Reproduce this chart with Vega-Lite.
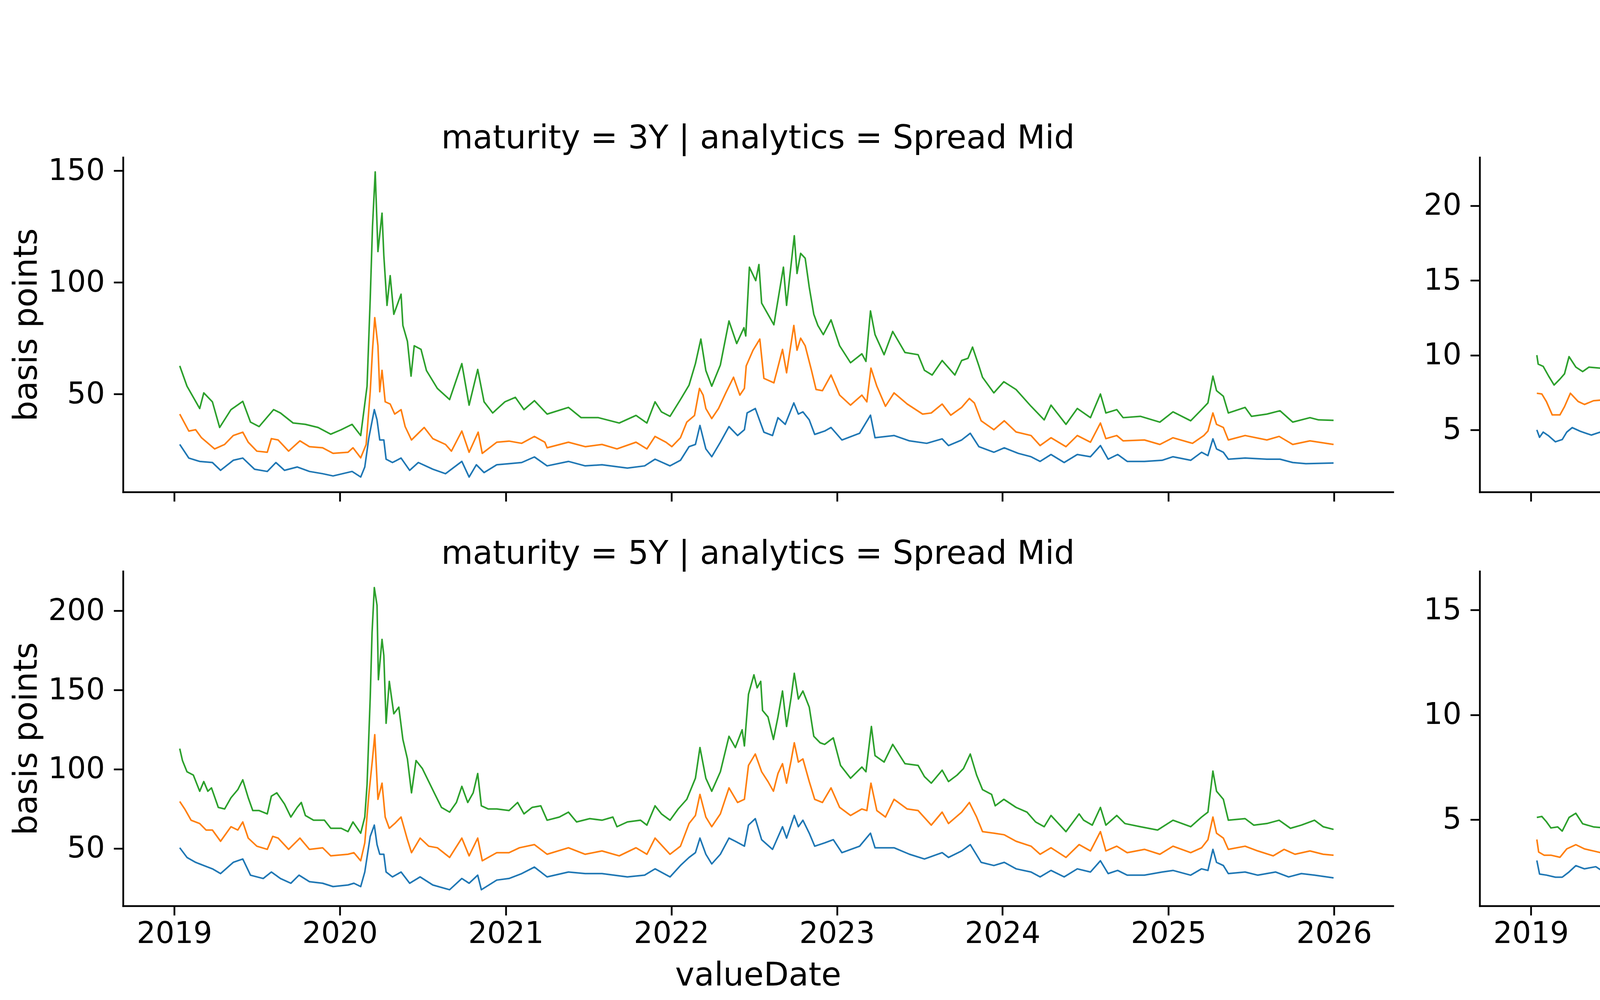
{
  "$schema": "https://vega.github.io/schema/vega-lite/v6.json",
  "background": "white",
  "padding": {"left": 27, "top": 65, "right": 10, "bottom": 10},
  "config": {
    "font": "DejaVu Sans",
    "view": {"stroke": null},
    "axis": {"grid": false, "domainColor": "#000000", "domainWidth": 4.5, "domainCap": "square", "tickColor": "#000000", "tickWidth": 4.5, "tickSize": 24, "labelFontSize": 76, "labelColor": "#000000", "labelLimit": 600, "titleFontSize": 83, "titleFontWeight": "normal", "titleColor": "#000000", "labelFont": "DejaVu Sans", "titleFont": "DejaVu Sans"},
    "axisX": {"labelPadding": 10, "titlePadding": 28, "format": "%Y"},
    "axisY": {"labelPadding": 23, "titlePadding": 12},
    "title": {"fontSize": 83, "fontWeight": "normal", "color": "#000000", "font": "DejaVu Sans", "offset": 2, "anchor": "middle"},
    "legend": {"labelLimit": 600, "titleLimit": 600},
    "line": {"strokeWidth": 4, "strokeJoin": "round"}
  },
  "bounds": "flush",
  "columns": 2,
  "spacing": {"row": 203, "column": 222},
  "datasets": {
    "m3": [
      {"valueDate":"2019-01-13","quantile":"75%","bp":62.6},{"valueDate":"2019-01-29","quantile":"75%","bp":53.5},{"valueDate":"2019-02-26","quantile":"75%","bp":43.5},{"valueDate":"2019-03-07","quantile":"75%","bp":50.5},{"valueDate":"2019-03-26","quantile":"75%","bp":46.5},{"valueDate":"2019-04-11","quantile":"75%","bp":35},{"valueDate":"2019-05-06","quantile":"75%","bp":43},{"valueDate":"2019-06-01","quantile":"75%","bp":46.7},{"valueDate":"2019-06-18","quantile":"75%","bp":37.4},{"valueDate":"2019-07-07","quantile":"75%","bp":35.4},{"valueDate":"2019-08-08","quantile":"75%","bp":43},{"valueDate":"2019-08-23","quantile":"75%","bp":41.5},{"valueDate":"2019-09-20","quantile":"75%","bp":37},{"valueDate":"2019-10-17","quantile":"75%","bp":36.4},{"valueDate":"2019-11-14","quantile":"75%","bp":35},{"valueDate":"2019-12-12","quantile":"75%","bp":32},{"valueDate":"2020-01-04","quantile":"75%","bp":34},{"valueDate":"2020-01-28","quantile":"75%","bp":36.4},{"valueDate":"2020-02-16","quantile":"75%","bp":31.4},{"valueDate":"2020-03-01","quantile":"75%","bp":53.5},{"valueDate":"2020-03-08","quantile":"75%","bp":92.7},{"valueDate":"2020-03-13","quantile":"75%","bp":125},{"valueDate":"2020-03-19","quantile":"75%","bp":149.5},{"valueDate":"2020-03-25","quantile":"75%","bp":113.8},{"valueDate":"2020-04-03","quantile":"75%","bp":131},{"valueDate":"2020-04-07","quantile":"75%","bp":112},{"valueDate":"2020-04-14","quantile":"75%","bp":89.7},{"valueDate":"2020-04-21","quantile":"75%","bp":103},{"valueDate":"2020-04-29","quantile":"75%","bp":85.7},{"valueDate":"2020-05-15","quantile":"75%","bp":94.7},{"valueDate":"2020-05-19","quantile":"75%","bp":80.7},{"valueDate":"2020-05-29","quantile":"75%","bp":73.6},{"valueDate":"2020-06-06","quantile":"75%","bp":58},{"valueDate":"2020-06-13","quantile":"75%","bp":71.6},{"valueDate":"2020-06-28","quantile":"75%","bp":70},{"valueDate":"2020-07-10","quantile":"75%","bp":60.5},{"valueDate":"2020-08-03","quantile":"75%","bp":52.5},{"valueDate":"2020-08-30","quantile":"75%","bp":47.5},{"valueDate":"2020-09-26","quantile":"75%","bp":63.6},{"valueDate":"2020-10-12","quantile":"75%","bp":45},{"valueDate":"2020-10-31","quantile":"75%","bp":61},{"valueDate":"2020-11-14","quantile":"75%","bp":46.5},{"valueDate":"2020-12-03","quantile":"75%","bp":41.5},{"valueDate":"2020-12-30","quantile":"75%","bp":46.5},{"valueDate":"2021-01-22","quantile":"75%","bp":48.5},{"valueDate":"2021-02-10","quantile":"75%","bp":43},{"valueDate":"2021-03-05","quantile":"75%","bp":47},{"valueDate":"2021-04-02","quantile":"75%","bp":41},{"valueDate":"2021-05-19","quantile":"75%","bp":44},{"valueDate":"2021-06-16","quantile":"75%","bp":39.4},{"valueDate":"2021-07-24","quantile":"75%","bp":39.4},{"valueDate":"2021-09-08","quantile":"75%","bp":37},{"valueDate":"2021-10-15","quantile":"75%","bp":40.4},{"valueDate":"2021-11-08","quantile":"75%","bp":37},{"valueDate":"2021-11-26","quantile":"75%","bp":46.5},{"valueDate":"2021-12-10","quantile":"75%","bp":42},{"valueDate":"2021-12-29","quantile":"75%","bp":40},{"valueDate":"2022-01-21","quantile":"75%","bp":47.5},{"valueDate":"2022-02-09","quantile":"75%","bp":54},{"valueDate":"2022-02-23","quantile":"75%","bp":63.6},{"valueDate":"2022-03-07","quantile":"75%","bp":74.6},{"valueDate":"2022-03-18","quantile":"75%","bp":60.5},{"valueDate":"2022-03-31","quantile":"75%","bp":53.5},{"valueDate":"2022-04-19","quantile":"75%","bp":63},{"valueDate":"2022-05-08","quantile":"75%","bp":82.7},{"valueDate":"2022-05-25","quantile":"75%","bp":72.6},{"valueDate":"2022-06-10","quantile":"75%","bp":79.7},{"valueDate":"2022-06-14","quantile":"75%","bp":76},{"valueDate":"2022-06-22","quantile":"75%","bp":106.8},{"valueDate":"2022-07-06","quantile":"75%","bp":100.8},{"valueDate":"2022-07-13","quantile":"75%","bp":108},{"valueDate":"2022-07-19","quantile":"75%","bp":90.7},{"valueDate":"2022-08-15","quantile":"75%","bp":81},{"valueDate":"2022-09-05","quantile":"75%","bp":106.8},{"valueDate":"2022-09-12","quantile":"75%","bp":89.7},{"valueDate":"2022-09-29","quantile":"75%","bp":120.9},{"valueDate":"2022-10-05","quantile":"75%","bp":104},{"valueDate":"2022-10-13","quantile":"75%","bp":113},{"valueDate":"2022-10-23","quantile":"75%","bp":110.8},{"valueDate":"2022-11-01","quantile":"75%","bp":97.8},{"valueDate":"2022-11-11","quantile":"75%","bp":85.7},{"valueDate":"2022-11-20","quantile":"75%","bp":80.7},{"valueDate":"2022-12-02","quantile":"75%","bp":76.6},{"valueDate":"2022-12-19","quantile":"75%","bp":83.2},{"valueDate":"2023-01-07","quantile":"75%","bp":71.6},{"valueDate":"2023-01-31","quantile":"75%","bp":64},{"valueDate":"2023-02-25","quantile":"75%","bp":68},{"valueDate":"2023-03-06","quantile":"75%","bp":64.6},{"valueDate":"2023-03-16","quantile":"75%","bp":87.2},{"valueDate":"2023-03-26","quantile":"75%","bp":76.6},{"valueDate":"2023-04-15","quantile":"75%","bp":67.6},{"valueDate":"2023-05-04","quantile":"75%","bp":78},{"valueDate":"2023-05-31","quantile":"75%","bp":68.6},{"valueDate":"2023-06-29","quantile":"75%","bp":67.6},{"valueDate":"2023-07-13","quantile":"75%","bp":60.6},{"valueDate":"2023-07-30","quantile":"75%","bp":58.5},{"valueDate":"2023-08-21","quantile":"75%","bp":65},{"valueDate":"2023-09-18","quantile":"75%","bp":58.5},{"valueDate":"2023-10-03","quantile":"75%","bp":65},{"valueDate":"2023-10-17","quantile":"75%","bp":66},{"valueDate":"2023-10-27","quantile":"75%","bp":71},{"valueDate":"2023-11-10","quantile":"75%","bp":62.6},{"valueDate":"2023-11-18","quantile":"75%","bp":57.5},{"valueDate":"2023-12-13","quantile":"75%","bp":50.5},{"valueDate":"2024-01-04","quantile":"75%","bp":55.5},{"valueDate":"2024-01-31","quantile":"75%","bp":52},{"valueDate":"2024-03-04","quantile":"75%","bp":44.5},{"valueDate":"2024-04-02","quantile":"75%","bp":38.4},{"valueDate":"2024-04-17","quantile":"75%","bp":45},{"valueDate":"2024-05-20","quantile":"75%","bp":36.4},{"valueDate":"2024-06-14","quantile":"75%","bp":43.5},{"valueDate":"2024-07-13","quantile":"75%","bp":39.4},{"valueDate":"2024-08-04","quantile":"75%","bp":50},{"valueDate":"2024-08-16","quantile":"75%","bp":41.5},{"valueDate":"2024-09-09","quantile":"75%","bp":43},{"valueDate":"2024-09-23","quantile":"75%","bp":39.4},{"valueDate":"2024-10-31","quantile":"75%","bp":40},{"valueDate":"2024-12-13","quantile":"75%","bp":37.4},{"valueDate":"2025-01-11","quantile":"75%","bp":42},{"valueDate":"2025-02-19","quantile":"75%","bp":38},{"valueDate":"2025-03-15","quantile":"75%","bp":43},{"valueDate":"2025-03-29","quantile":"75%","bp":46},{"valueDate":"2025-04-09","quantile":"75%","bp":58},{"valueDate":"2025-04-17","quantile":"75%","bp":51.5},{"valueDate":"2025-05-02","quantile":"75%","bp":49},{"valueDate":"2025-05-13","quantile":"75%","bp":41.5},{"valueDate":"2025-06-19","quantile":"75%","bp":44},{"valueDate":"2025-07-03","quantile":"75%","bp":40},{"valueDate":"2025-08-06","quantile":"75%","bp":41},{"valueDate":"2025-09-04","quantile":"75%","bp":42.5},{"valueDate":"2025-10-02","quantile":"75%","bp":37.4},{"valueDate":"2025-11-09","quantile":"75%","bp":39.4},{"valueDate":"2025-11-28","quantile":"75%","bp":38.4},{"valueDate":"2025-12-31","quantile":"75%","bp":38.2},
      {"valueDate":"2019-01-13","quantile":"50%","bp":41},{"valueDate":"2019-02-02","quantile":"50%","bp":33.4},{"valueDate":"2019-02-17","quantile":"50%","bp":34},{"valueDate":"2019-03-02","quantile":"50%","bp":30.4},{"valueDate":"2019-03-31","quantile":"50%","bp":25.4},{"valueDate":"2019-04-22","quantile":"50%","bp":27.4},{"valueDate":"2019-05-11","quantile":"50%","bp":31.4},{"valueDate":"2019-06-01","quantile":"50%","bp":32.9},{"valueDate":"2019-06-13","quantile":"50%","bp":28.4},{"valueDate":"2019-07-02","quantile":"50%","bp":24.4},{"valueDate":"2019-07-25","quantile":"50%","bp":23.9},{"valueDate":"2019-08-03","quantile":"50%","bp":30},{"valueDate":"2019-08-18","quantile":"50%","bp":29.4},{"valueDate":"2019-09-10","quantile":"50%","bp":24.4},{"valueDate":"2019-10-05","quantile":"50%","bp":29},{"valueDate":"2019-10-26","quantile":"50%","bp":26.4},{"valueDate":"2019-11-24","quantile":"50%","bp":25.9},{"valueDate":"2019-12-17","quantile":"50%","bp":23.4},{"valueDate":"2020-01-19","quantile":"50%","bp":23.9},{"valueDate":"2020-01-30","quantile":"50%","bp":25.9},{"valueDate":"2020-02-16","quantile":"50%","bp":21.4},{"valueDate":"2020-02-28","quantile":"50%","bp":27.4},{"valueDate":"2020-03-08","quantile":"50%","bp":51},{"valueDate":"2020-03-13","quantile":"50%","bp":69.6},{"valueDate":"2020-03-18","quantile":"50%","bp":84.2},{"valueDate":"2020-03-25","quantile":"50%","bp":71.6},{"valueDate":"2020-03-29","quantile":"50%","bp":51},{"valueDate":"2020-04-03","quantile":"50%","bp":60.6},{"valueDate":"2020-04-10","quantile":"50%","bp":46.5},{"valueDate":"2020-04-21","quantile":"50%","bp":45.5},{"valueDate":"2020-05-01","quantile":"50%","bp":41},{"valueDate":"2020-05-15","quantile":"50%","bp":43},{"valueDate":"2020-05-24","quantile":"50%","bp":35.4},{"valueDate":"2020-06-07","quantile":"50%","bp":29.4},{"valueDate":"2020-07-05","quantile":"50%","bp":35},{"valueDate":"2020-07-24","quantile":"50%","bp":30},{"valueDate":"2020-08-21","quantile":"50%","bp":27.4},{"valueDate":"2020-09-03","quantile":"50%","bp":24.4},{"valueDate":"2020-09-26","quantile":"50%","bp":33.4},{"valueDate":"2020-10-12","quantile":"50%","bp":23.9},{"valueDate":"2020-11-01","quantile":"50%","bp":32.9},{"valueDate":"2020-11-10","quantile":"50%","bp":23.4},{"valueDate":"2020-12-12","quantile":"50%","bp":28.4},{"valueDate":"2021-01-08","quantile":"50%","bp":28.9},{"valueDate":"2021-02-05","quantile":"50%","bp":27.9},{"valueDate":"2021-03-05","quantile":"50%","bp":31},{"valueDate":"2021-03-28","quantile":"50%","bp":28.4},{"valueDate":"2021-04-02","quantile":"50%","bp":25.9},{"valueDate":"2021-05-19","quantile":"50%","bp":28.4},{"valueDate":"2021-06-25","quantile":"50%","bp":26.4},{"valueDate":"2021-08-01","quantile":"50%","bp":27.4},{"valueDate":"2021-09-03","quantile":"50%","bp":25.4},{"valueDate":"2021-10-15","quantile":"50%","bp":28.4},{"valueDate":"2021-11-08","quantile":"50%","bp":25.4},{"valueDate":"2021-11-26","quantile":"50%","bp":31},{"valueDate":"2021-12-20","quantile":"50%","bp":28.4},{"valueDate":"2022-01-02","quantile":"50%","bp":26.4},{"valueDate":"2022-01-21","quantile":"50%","bp":30.4},{"valueDate":"2022-02-04","quantile":"50%","bp":37.4},{"valueDate":"2022-02-21","quantile":"50%","bp":40.4},{"valueDate":"2022-03-04","quantile":"50%","bp":52.5},{"valueDate":"2022-03-12","quantile":"50%","bp":49.5},{"valueDate":"2022-03-18","quantile":"50%","bp":43.5},{"valueDate":"2022-03-31","quantile":"50%","bp":39},{"valueDate":"2022-04-15","quantile":"50%","bp":43.5},{"valueDate":"2022-05-01","quantile":"50%","bp":50.5},{"valueDate":"2022-05-18","quantile":"50%","bp":57.5},{"valueDate":"2022-06-01","quantile":"50%","bp":49.5},{"valueDate":"2022-06-11","quantile":"50%","bp":52.5},{"valueDate":"2022-06-15","quantile":"50%","bp":62.6},{"valueDate":"2022-06-30","quantile":"50%","bp":69.6},{"valueDate":"2022-07-15","quantile":"50%","bp":74.6},{"valueDate":"2022-07-24","quantile":"50%","bp":57},{"valueDate":"2022-08-15","quantile":"50%","bp":55},{"valueDate":"2022-09-03","quantile":"50%","bp":70},{"valueDate":"2022-09-12","quantile":"50%","bp":59.5},{"valueDate":"2022-09-28","quantile":"50%","bp":80.7},{"valueDate":"2022-10-05","quantile":"50%","bp":69.6},{"valueDate":"2022-10-13","quantile":"50%","bp":75},{"valueDate":"2022-10-23","quantile":"50%","bp":71.6},{"valueDate":"2022-11-06","quantile":"50%","bp":60.5},{"valueDate":"2022-11-16","quantile":"50%","bp":52},{"valueDate":"2022-11-30","quantile":"50%","bp":51.5},{"valueDate":"2022-12-19","quantile":"50%","bp":58.5},{"valueDate":"2023-01-07","quantile":"50%","bp":49.5},{"valueDate":"2023-01-31","quantile":"50%","bp":45},{"valueDate":"2023-02-25","quantile":"50%","bp":49.5},{"valueDate":"2023-03-08","quantile":"50%","bp":46.5},{"valueDate":"2023-03-17","quantile":"50%","bp":61.6},{"valueDate":"2023-03-30","quantile":"50%","bp":53.5},{"valueDate":"2023-04-18","quantile":"50%","bp":44.5},{"valueDate":"2023-05-07","quantile":"50%","bp":50.5},{"valueDate":"2023-06-05","quantile":"50%","bp":45.5},{"valueDate":"2023-07-09","quantile":"50%","bp":41},{"valueDate":"2023-07-28","quantile":"50%","bp":41.5},{"valueDate":"2023-08-21","quantile":"50%","bp":45.5},{"valueDate":"2023-09-09","quantile":"50%","bp":40.5},{"valueDate":"2023-10-03","quantile":"50%","bp":44},{"valueDate":"2023-10-20","quantile":"50%","bp":48},{"valueDate":"2023-10-31","quantile":"50%","bp":46},{"valueDate":"2023-11-15","quantile":"50%","bp":38},{"valueDate":"2023-12-13","quantile":"50%","bp":34},{"valueDate":"2024-01-05","quantile":"50%","bp":38},{"valueDate":"2024-01-31","quantile":"50%","bp":33},{"valueDate":"2024-03-04","quantile":"50%","bp":31.4},{"valueDate":"2024-03-24","quantile":"50%","bp":26.9},{"valueDate":"2024-04-17","quantile":"50%","bp":30.4},{"valueDate":"2024-05-20","quantile":"50%","bp":26.4},{"valueDate":"2024-06-14","quantile":"50%","bp":31.4},{"valueDate":"2024-07-13","quantile":"50%","bp":28.4},{"valueDate":"2024-08-04","quantile":"50%","bp":37},{"valueDate":"2024-08-16","quantile":"50%","bp":30},{"valueDate":"2024-09-09","quantile":"50%","bp":31.4},{"valueDate":"2024-09-23","quantile":"50%","bp":29},{"valueDate":"2024-11-09","quantile":"50%","bp":29.4},{"valueDate":"2024-12-13","quantile":"50%","bp":27.4},{"valueDate":"2025-01-11","quantile":"50%","bp":30.4},{"valueDate":"2025-02-23","quantile":"50%","bp":27.9},{"valueDate":"2025-03-20","quantile":"50%","bp":31.4},{"valueDate":"2025-03-29","quantile":"50%","bp":33.4},{"valueDate":"2025-04-09","quantile":"50%","bp":41.5},{"valueDate":"2025-04-17","quantile":"50%","bp":36.4},{"valueDate":"2025-05-02","quantile":"50%","bp":35},{"valueDate":"2025-05-13","quantile":"50%","bp":29.4},{"valueDate":"2025-06-19","quantile":"50%","bp":31.4},{"valueDate":"2025-08-06","quantile":"50%","bp":29.4},{"valueDate":"2025-09-02","quantile":"50%","bp":31},{"valueDate":"2025-10-02","quantile":"50%","bp":27.4},{"valueDate":"2025-11-09","quantile":"50%","bp":29},{"valueDate":"2025-12-31","quantile":"50%","bp":27.4},
      {"valueDate":"2019-01-13","quantile":"25%","bp":27.4},{"valueDate":"2019-02-02","quantile":"25%","bp":21.3},{"valueDate":"2019-02-26","quantile":"25%","bp":19.8},{"valueDate":"2019-03-26","quantile":"25%","bp":19.3},{"valueDate":"2019-04-13","quantile":"25%","bp":15.8},{"valueDate":"2019-05-11","quantile":"25%","bp":20.3},{"valueDate":"2019-06-01","quantile":"25%","bp":21.3},{"valueDate":"2019-06-27","quantile":"25%","bp":16.3},{"valueDate":"2019-07-25","quantile":"25%","bp":15.3},{"valueDate":"2019-08-13","quantile":"25%","bp":19.3},{"valueDate":"2019-09-01","quantile":"25%","bp":15.8},{"valueDate":"2019-09-29","quantile":"25%","bp":17.3},{"valueDate":"2019-10-26","quantile":"25%","bp":15.3},{"valueDate":"2019-11-24","quantile":"25%","bp":14.3},{"valueDate":"2019-12-17","quantile":"25%","bp":13.3},{"valueDate":"2020-01-28","quantile":"25%","bp":15.3},{"valueDate":"2020-02-16","quantile":"25%","bp":12.8},{"valueDate":"2020-02-25","quantile":"25%","bp":17.3},{"valueDate":"2020-03-05","quantile":"25%","bp":30.4},{"valueDate":"2020-03-17","quantile":"25%","bp":43},{"valueDate":"2020-03-23","quantile":"25%","bp":38.4},{"valueDate":"2020-03-29","quantile":"25%","bp":29.4},{"valueDate":"2020-04-07","quantile":"25%","bp":29.4},{"valueDate":"2020-04-12","quantile":"25%","bp":20.8},{"valueDate":"2020-04-26","quantile":"25%","bp":19.3},{"valueDate":"2020-05-15","quantile":"25%","bp":21.3},{"valueDate":"2020-06-03","quantile":"25%","bp":15.8},{"valueDate":"2020-06-22","quantile":"25%","bp":19.3},{"valueDate":"2020-07-24","quantile":"25%","bp":16.3},{"valueDate":"2020-08-21","quantile":"25%","bp":14.3},{"valueDate":"2020-09-26","quantile":"25%","bp":19.8},{"valueDate":"2020-10-12","quantile":"25%","bp":12.8},{"valueDate":"2020-10-28","quantile":"25%","bp":18.3},{"valueDate":"2020-11-14","quantile":"25%","bp":14.8},{"valueDate":"2020-12-12","quantile":"25%","bp":18.3},{"valueDate":"2021-01-08","quantile":"25%","bp":18.8},{"valueDate":"2021-02-05","quantile":"25%","bp":19.3},{"valueDate":"2021-03-05","quantile":"25%","bp":21.8},{"valueDate":"2021-04-02","quantile":"25%","bp":17.8},{"valueDate":"2021-05-19","quantile":"25%","bp":19.8},{"valueDate":"2021-06-25","quantile":"25%","bp":17.8},{"valueDate":"2021-08-01","quantile":"25%","bp":18.3},{"valueDate":"2021-09-26","quantile":"25%","bp":16.8},{"valueDate":"2021-11-03","quantile":"25%","bp":17.8},{"valueDate":"2021-11-26","quantile":"25%","bp":20.8},{"valueDate":"2021-12-29","quantile":"25%","bp":17.8},{"valueDate":"2022-01-21","quantile":"25%","bp":20.3},{"valueDate":"2022-02-09","quantile":"25%","bp":26.4},{"valueDate":"2022-02-23","quantile":"25%","bp":27.4},{"valueDate":"2022-03-05","quantile":"25%","bp":35.9},{"valueDate":"2022-03-18","quantile":"25%","bp":25.4},{"valueDate":"2022-03-31","quantile":"25%","bp":21.9},{"valueDate":"2022-04-19","quantile":"25%","bp":28.4},{"valueDate":"2022-05-08","quantile":"25%","bp":35.4},{"valueDate":"2022-05-27","quantile":"25%","bp":31.4},{"valueDate":"2022-06-11","quantile":"25%","bp":34},{"valueDate":"2022-06-17","quantile":"25%","bp":41.5},{"valueDate":"2022-07-05","quantile":"25%","bp":43.5},{"valueDate":"2022-07-24","quantile":"25%","bp":32.9},{"valueDate":"2022-08-12","quantile":"25%","bp":31.4},{"valueDate":"2022-08-24","quantile":"25%","bp":39.4},{"valueDate":"2022-09-09","quantile":"25%","bp":36.4},{"valueDate":"2022-09-28","quantile":"25%","bp":46},{"valueDate":"2022-10-08","quantile":"25%","bp":41},{"valueDate":"2022-10-18","quantile":"25%","bp":42},{"valueDate":"2022-11-01","quantile":"25%","bp":38.4},{"valueDate":"2022-11-13","quantile":"25%","bp":31.9},{"valueDate":"2022-12-05","quantile":"25%","bp":33.4},{"valueDate":"2022-12-19","quantile":"25%","bp":35},{"valueDate":"2023-01-12","quantile":"25%","bp":29.4},{"valueDate":"2023-02-20","quantile":"25%","bp":32.4},{"valueDate":"2023-03-16","quantile":"25%","bp":40.5},{"valueDate":"2023-03-26","quantile":"25%","bp":30.4},{"valueDate":"2023-05-07","quantile":"25%","bp":31.4},{"valueDate":"2023-06-10","quantile":"25%","bp":29},{"valueDate":"2023-07-18","quantile":"25%","bp":27.9},{"valueDate":"2023-08-21","quantile":"25%","bp":29.9},{"valueDate":"2023-09-04","quantile":"25%","bp":26.9},{"valueDate":"2023-10-03","quantile":"25%","bp":29.4},{"valueDate":"2023-10-22","quantile":"25%","bp":32.4},{"valueDate":"2023-11-10","quantile":"25%","bp":26.4},{"valueDate":"2023-12-13","quantile":"25%","bp":23.9},{"valueDate":"2024-01-05","quantile":"25%","bp":25.9},{"valueDate":"2024-02-05","quantile":"25%","bp":23.4},{"valueDate":"2024-03-04","quantile":"25%","bp":21.9},{"valueDate":"2024-03-24","quantile":"25%","bp":19.8},{"valueDate":"2024-04-17","quantile":"25%","bp":22.9},{"valueDate":"2024-05-16","quantile":"25%","bp":19.3},{"valueDate":"2024-06-14","quantile":"25%","bp":22.9},{"valueDate":"2024-07-13","quantile":"25%","bp":21.9},{"valueDate":"2024-08-04","quantile":"25%","bp":26.9},{"valueDate":"2024-08-21","quantile":"25%","bp":20.8},{"valueDate":"2024-09-11","quantile":"25%","bp":22.9},{"valueDate":"2024-10-02","quantile":"25%","bp":19.8},{"valueDate":"2024-11-09","quantile":"25%","bp":19.8},{"valueDate":"2024-12-18","quantile":"25%","bp":20.3},{"valueDate":"2025-01-11","quantile":"25%","bp":21.9},{"valueDate":"2025-02-19","quantile":"25%","bp":20.3},{"valueDate":"2025-03-15","quantile":"25%","bp":23.9},{"valueDate":"2025-03-29","quantile":"25%","bp":22.4},{"valueDate":"2025-04-09","quantile":"25%","bp":29.9},{"valueDate":"2025-04-17","quantile":"25%","bp":25.4},{"valueDate":"2025-05-02","quantile":"25%","bp":23.9},{"valueDate":"2025-05-13","quantile":"25%","bp":20.8},{"valueDate":"2025-06-19","quantile":"25%","bp":21.3},{"valueDate":"2025-08-06","quantile":"25%","bp":20.8},{"valueDate":"2025-09-04","quantile":"25%","bp":20.8},{"valueDate":"2025-10-02","quantile":"25%","bp":19.3},{"valueDate":"2025-10-31","quantile":"25%","bp":18.8},{"valueDate":"2025-12-31","quantile":"25%","bp":19.1}
    ],
    "b3": [
      {"valueDate":"2019-01-14","quantile":"75%","bp":10.0},{"valueDate":"2019-01-17","quantile":"75%","bp":9.4},{"valueDate":"2019-01-28","quantile":"75%","bp":9.25},{"valueDate":"2019-02-09","quantile":"75%","bp":8.6},{"valueDate":"2019-02-21","quantile":"75%","bp":8.0},{"valueDate":"2019-03-06","quantile":"75%","bp":8.4},{"valueDate":"2019-03-16","quantile":"75%","bp":8.75},{"valueDate":"2019-03-26","quantile":"75%","bp":9.9},{"valueDate":"2019-04-10","quantile":"75%","bp":9.2},{"valueDate":"2019-04-25","quantile":"75%","bp":8.9},{"valueDate":"2019-05-09","quantile":"75%","bp":9.2},{"valueDate":"2019-06-13","quantile":"75%","bp":9.1},{"valueDate":"2019-06-23","quantile":"75%","bp":8.6},{"valueDate":"2019-07-08","quantile":"75%","bp":8.75},{"valueDate":"2019-07-27","quantile":"75%","bp":8.5},{"valueDate":"2019-08-11","quantile":"75%","bp":8.75},{"valueDate":"2019-08-16","quantile":"75%","bp":8.3},{"valueDate":"2019-08-24","quantile":"75%","bp":6.5},{"valueDate":"2019-09-05","quantile":"75%","bp":6.55},{"valueDate":"2019-09-18","quantile":"75%","bp":6.4},{"valueDate":"2019-09-25","quantile":"75%","bp":7.1},{"valueDate":"2019-10-04","quantile":"75%","bp":7.6},{"valueDate":"2019-10-19","quantile":"75%","bp":7.1},{"valueDate":"2019-11-13","quantile":"75%","bp":7.3},{"valueDate":"2019-12-03","quantile":"75%","bp":7.0},{"valueDate":"2019-12-23","quantile":"75%","bp":7.1},{"valueDate":"2020-01-07","quantile":"75%","bp":6.5},{"valueDate":"2020-01-27","quantile":"75%","bp":6.9},{"valueDate":"2020-02-16","quantile":"75%","bp":7.0},{"valueDate":"2020-03-02","quantile":"75%","bp":7.5},{"valueDate":"2020-03-14","quantile":"75%","bp":12.35},{"valueDate":"2020-03-24","quantile":"75%","bp":17.4},{"valueDate":"2020-04-03","quantile":"75%","bp":20.4},{"valueDate":"2020-04-11","quantile":"75%","bp":22.2},{"valueDate":"2020-04-18","quantile":"75%","bp":20.7},{"valueDate":"2020-04-26","quantile":"75%","bp":16.8},{"valueDate":"2020-05-03","quantile":"75%","bp":14.15},{"valueDate":"2020-05-16","quantile":"75%","bp":13.0},{"valueDate":"2020-05-31","quantile":"75%","bp":12.0},{"valueDate":"2020-06-08","quantile":"75%","bp":10.5},{"valueDate":"2020-06-20","quantile":"75%","bp":10.4},{"valueDate":"2020-06-28","quantile":"75%","bp":9.65},{"valueDate":"2020-07-07","quantile":"75%","bp":11},{"valueDate":"2020-07-19","quantile":"75%","bp":10.4},{"valueDate":"2020-07-29","quantile":"75%","bp":11.5},{"valueDate":"2020-08-11","quantile":"75%","bp":9.8},{"valueDate":"2020-08-23","quantile":"75%","bp":10.8},{"valueDate":"2020-09-06","quantile":"75%","bp":10.3},{"valueDate":"2020-09-16","quantile":"75%","bp":10},{"valueDate":"2020-10-01","quantile":"75%","bp":11.05},{"valueDate":"2020-10-16","quantile":"75%","bp":9.9},{"valueDate":"2020-10-28","quantile":"75%","bp":8.35},{"valueDate":"2020-11-08","quantile":"75%","bp":8.7},{"valueDate":"2020-11-15","quantile":"75%","bp":10.4},{"valueDate":"2020-11-25","quantile":"75%","bp":11.4},{"valueDate":"2020-12-10","quantile":"75%","bp":10.4},{"valueDate":"2020-12-30","quantile":"75%","bp":9.9},{"valueDate":"2021-01-13","quantile":"75%","bp":9.0},{"valueDate":"2021-01-28","quantile":"75%","bp":10.4},{"valueDate":"2021-02-12","quantile":"75%","bp":9.9},{"valueDate":"2021-02-27","quantile":"75%","bp":8.35},{"valueDate":"2021-03-13","quantile":"75%","bp":8.4},{"valueDate":"2021-03-28","quantile":"75%","bp":10},{"valueDate":"2021-04-12","quantile":"75%","bp":10},{"valueDate":"2021-04-22","quantile":"75%","bp":9.25},{"valueDate":"2021-05-17","quantile":"75%","bp":8.75},{"valueDate":"2021-06-05","quantile":"75%","bp":8.9},{"valueDate":"2021-06-22","quantile":"75%","bp":8.4},{"valueDate":"2021-06-30","quantile":"75%","bp":7.1},{"valueDate":"2021-07-20","quantile":"75%","bp":6.95},{"valueDate":"2021-07-26","quantile":"75%","bp":8.4},{"valueDate":"2021-08-09","quantile":"75%","bp":6.95},{"valueDate":"2021-08-29","quantile":"75%","bp":7.5},{"valueDate":"2021-09-08","quantile":"75%","bp":8.6},{"valueDate":"2021-09-22","quantile":"75%","bp":8.9},{"valueDate":"2021-10-12","quantile":"75%","bp":7.6},{"valueDate":"2021-11-06","quantile":"75%","bp":7.2},{"valueDate":"2021-11-21","quantile":"75%","bp":6.8},{"valueDate":"2021-12-05","quantile":"75%","bp":6.2},{"valueDate":"2021-12-25","quantile":"75%","bp":6.95},{"valueDate":"2022-01-04","quantile":"75%","bp":8.0},{"valueDate":"2022-01-19","quantile":"75%","bp":6.5},{"valueDate":"2022-02-08","quantile":"75%","bp":5.9},{"valueDate":"2022-02-22","quantile":"75%","bp":5.9},{"valueDate":"2022-03-09","quantile":"75%","bp":7.3},{"valueDate":"2022-03-24","quantile":"75%","bp":8.1},{"valueDate":"2022-04-08","quantile":"75%","bp":8.35},{"valueDate":"2022-04-23","quantile":"75%","bp":8.4},{"valueDate":"2022-05-09","quantile":"75%","bp":7.6},{"valueDate":"2022-06-03","quantile":"75%","bp":8.1},{"valueDate":"2022-06-24","quantile":"75%","bp":8.35},{"valueDate":"2022-07-04","quantile":"75%","bp":10.3},{"valueDate":"2022-07-22","quantile":"75%","bp":9.9},{"valueDate":"2022-08-04","quantile":"75%","bp":13.8},{"valueDate":"2022-08-16","quantile":"75%","bp":13.9},{"valueDate":"2022-08-24","quantile":"75%","bp":13.2},{"valueDate":"2022-08-29","quantile":"75%","bp":10.9},{"valueDate":"2022-09-08","quantile":"75%","bp":13.5},{"valueDate":"2022-09-18","quantile":"75%","bp":12.9},{"valueDate":"2022-10-03","quantile":"75%","bp":13.7},{"valueDate":"2022-10-13","quantile":"75%","bp":13.0},{"valueDate":"2022-10-28","quantile":"75%","bp":14.15},{"valueDate":"2022-11-07","quantile":"75%","bp":13.5},{"valueDate":"2022-11-22","quantile":"75%","bp":13.0},{"valueDate":"2022-12-02","quantile":"75%","bp":11.2},{"valueDate":"2022-12-12","quantile":"75%","bp":10.2},{"valueDate":"2022-12-22","quantile":"75%","bp":9.9},{"valueDate":"2023-01-03","quantile":"75%","bp":8.9},{"valueDate":"2023-01-23","quantile":"75%","bp":8.35},{"valueDate":"2023-02-22","quantile":"75%","bp":8.3},{"valueDate":"2023-03-13","quantile":"75%","bp":7.8},{"valueDate":"2023-03-31","quantile":"75%","bp":9.75},{"valueDate":"2023-04-09","quantile":"75%","bp":8.85},{"valueDate":"2023-04-24","quantile":"75%","bp":8.1},{"valueDate":"2023-05-14","quantile":"75%","bp":7.6},{"valueDate":"2023-06-03","quantile":"75%","bp":7.45},{"valueDate":"2023-06-23","quantile":"75%","bp":7.7},{"valueDate":"2023-07-14","quantile":"75%","bp":7.1},{"valueDate":"2023-08-23","quantile":"75%","bp":7.0},{"valueDate":"2023-09-23","quantile":"75%","bp":7.8},{"valueDate":"2023-10-13","quantile":"75%","bp":6.8},{"valueDate":"2023-10-23","quantile":"75%","bp":8.1},{"valueDate":"2023-11-02","quantile":"75%","bp":8.3},{"valueDate":"2023-11-27","quantile":"75%","bp":7.2},{"valueDate":"2023-12-28","quantile":"75%","bp":7.9},{"valueDate":"2024-01-23","quantile":"75%","bp":7.85},{"valueDate":"2024-02-13","quantile":"75%","bp":7.2},{"valueDate":"2024-03-14","quantile":"75%","bp":6.8},{"valueDate":"2024-04-04","quantile":"75%","bp":7.2},{"valueDate":"2024-04-24","quantile":"75%","bp":6.8},{"valueDate":"2024-05-14","quantile":"75%","bp":6.95},{"valueDate":"2024-06-14","quantile":"75%","bp":6.4},{"valueDate":"2024-07-14","quantile":"75%","bp":6.7},{"valueDate":"2024-08-04","quantile":"75%","bp":6.7},{"valueDate":"2024-08-24","quantile":"75%","bp":6.8},{"valueDate":"2024-09-11","quantile":"75%","bp":6.05},{"valueDate":"2024-09-28","quantile":"75%","bp":6.95},{"valueDate":"2024-10-23","quantile":"75%","bp":6.55},{"valueDate":"2024-11-17","quantile":"75%","bp":6.5},{"valueDate":"2024-12-12","quantile":"75%","bp":6.3},{"valueDate":"2025-01-03","quantile":"75%","bp":6.2},{"valueDate":"2025-02-03","quantile":"75%","bp":6.05},{"valueDate":"2025-02-23","quantile":"75%","bp":5.9},{"valueDate":"2025-03-13","quantile":"75%","bp":5.6},{"valueDate":"2025-03-25","quantile":"75%","bp":6.15},{"valueDate":"2025-04-04","quantile":"75%","bp":5.9},{"valueDate":"2025-04-16","quantile":"75%","bp":6.9},{"valueDate":"2025-05-04","quantile":"75%","bp":6.4},{"valueDate":"2025-05-19","quantile":"75%","bp":6.2},{"valueDate":"2025-06-24","quantile":"75%","bp":6.05},{"valueDate":"2025-07-04","quantile":"75%","bp":5.7},{"valueDate":"2025-07-30","quantile":"75%","bp":6.15},{"valueDate":"2025-08-29","quantile":"75%","bp":6.0},{"valueDate":"2025-09-28","quantile":"75%","bp":6.05},{"valueDate":"2025-10-13","quantile":"75%","bp":5.6},{"valueDate":"2025-11-02","quantile":"75%","bp":5.3},{"valueDate":"2025-11-22","quantile":"75%","bp":5.5},{"valueDate":"2025-12-07","quantile":"75%","bp":5.8},{"valueDate":"2025-12-17","quantile":"75%","bp":5.6},{"valueDate":"2025-12-31","quantile":"75%","bp":5.8},
      {"valueDate":"2019-01-14","quantile":"50%","bp":7.45},{"valueDate":"2019-01-25","quantile":"50%","bp":7.4},{"valueDate":"2019-02-04","quantile":"50%","bp":6.9},{"valueDate":"2019-02-17","quantile":"50%","bp":6.0},{"valueDate":"2019-03-06","quantile":"50%","bp":6.0},{"valueDate":"2019-03-16","quantile":"50%","bp":6.55},{"valueDate":"2019-03-29","quantile":"50%","bp":7.45},{"valueDate":"2019-04-15","quantile":"50%","bp":6.9},{"valueDate":"2019-04-29","quantile":"50%","bp":6.7},{"valueDate":"2019-05-19","quantile":"50%","bp":6.95},{"valueDate":"2019-06-08","quantile":"50%","bp":7.0},{"valueDate":"2019-06-23","quantile":"50%","bp":6.6},{"valueDate":"2019-07-08","quantile":"50%","bp":6.2},{"valueDate":"2019-07-27","quantile":"50%","bp":6.15},{"valueDate":"2019-08-11","quantile":"50%","bp":6.55},{"valueDate":"2019-08-16","quantile":"50%","bp":5.7},{"valueDate":"2019-08-28","quantile":"50%","bp":4.2},{"valueDate":"2019-09-10","quantile":"50%","bp":4.35},{"valueDate":"2019-09-20","quantile":"50%","bp":4.5},{"valueDate":"2019-09-27","quantile":"50%","bp":5.3},{"valueDate":"2019-10-06","quantile":"50%","bp":5.55},{"valueDate":"2019-10-16","quantile":"50%","bp":5.1},{"valueDate":"2019-11-13","quantile":"50%","bp":4.9},{"valueDate":"2019-12-08","quantile":"50%","bp":5.0},{"valueDate":"2019-12-23","quantile":"50%","bp":5.4},{"valueDate":"2020-01-04","quantile":"50%","bp":4.4},{"valueDate":"2020-01-17","quantile":"50%","bp":4.9},{"valueDate":"2020-02-06","quantile":"50%","bp":4.85},{"valueDate":"2020-02-19","quantile":"50%","bp":5.65},{"valueDate":"2020-03-04","quantile":"50%","bp":5.65},{"valueDate":"2020-03-17","quantile":"50%","bp":7.45},{"valueDate":"2020-03-25","quantile":"50%","bp":8.6},{"valueDate":"2020-04-03","quantile":"50%","bp":11.7},{"valueDate":"2020-04-09","quantile":"50%","bp":15.3},{"valueDate":"2020-04-14","quantile":"50%","bp":15.2},{"valueDate":"2020-04-19","quantile":"50%","bp":11.7},{"valueDate":"2020-04-29","quantile":"50%","bp":8.3},{"valueDate":"2020-05-09","quantile":"50%","bp":7.4},{"valueDate":"2020-05-26","quantile":"50%","bp":6.95},{"valueDate":"2020-06-10","quantile":"50%","bp":6.6},{"valueDate":"2020-06-22","quantile":"50%","bp":6.3},{"valueDate":"2020-06-30","quantile":"50%","bp":5.8},{"valueDate":"2020-07-09","quantile":"50%","bp":6.8},{"valueDate":"2020-07-19","quantile":"50%","bp":6.3},{"valueDate":"2020-08-03","quantile":"50%","bp":6.05},{"valueDate":"2020-08-18","quantile":"50%","bp":6.05},{"valueDate":"2020-09-02","quantile":"50%","bp":5.9},{"valueDate":"2020-09-14","quantile":"50%","bp":5.55},{"valueDate":"2020-10-01","quantile":"50%","bp":6.6},{"valueDate":"2020-10-14","quantile":"50%","bp":6.5},{"valueDate":"2020-10-21","quantile":"50%","bp":5.5},{"valueDate":"2020-10-31","quantile":"50%","bp":4.75},{"valueDate":"2020-11-10","quantile":"50%","bp":6.3},{"valueDate":"2020-11-17","quantile":"50%","bp":8.3},{"valueDate":"2020-11-27","quantile":"50%","bp":8.3},{"valueDate":"2020-12-07","quantile":"50%","bp":7.5},{"valueDate":"2020-12-20","quantile":"50%","bp":7.1},{"valueDate":"2021-01-08","quantile":"50%","bp":6.6},{"valueDate":"2021-01-28","quantile":"50%","bp":7.6},{"valueDate":"2021-02-12","quantile":"50%","bp":6.9},{"valueDate":"2021-03-04","quantile":"50%","bp":6.15},{"valueDate":"2021-03-23","quantile":"50%","bp":7.1},{"valueDate":"2021-04-07","quantile":"50%","bp":7.4},{"valueDate":"2021-04-27","quantile":"50%","bp":6.55},{"valueDate":"2021-05-12","quantile":"50%","bp":6.15},{"valueDate":"2021-06-01","quantile":"50%","bp":6.4},{"valueDate":"2021-06-20","quantile":"50%","bp":6.0},{"valueDate":"2021-07-05","quantile":"50%","bp":5.3},{"valueDate":"2021-07-25","quantile":"50%","bp":5.8},{"valueDate":"2021-08-14","quantile":"50%","bp":5.5},{"valueDate":"2021-08-29","quantile":"50%","bp":5.55},{"valueDate":"2021-09-22","quantile":"50%","bp":6.15},{"valueDate":"2021-10-12","quantile":"50%","bp":5.65},{"valueDate":"2021-11-06","quantile":"50%","bp":5.4},{"valueDate":"2021-11-26","quantile":"50%","bp":5.1},{"valueDate":"2021-12-15","quantile":"50%","bp":5.15},{"valueDate":"2022-01-04","quantile":"50%","bp":5.4},{"valueDate":"2022-01-14","quantile":"50%","bp":5.0},{"valueDate":"2022-02-08","quantile":"50%","bp":4.7},{"valueDate":"2022-02-22","quantile":"50%","bp":4.6},{"valueDate":"2022-03-04","quantile":"50%","bp":5.0},{"valueDate":"2022-03-24","quantile":"50%","bp":5.9},{"valueDate":"2022-04-18","quantile":"50%","bp":6.5},{"valueDate":"2022-05-04","quantile":"50%","bp":6.0},{"valueDate":"2022-05-24","quantile":"50%","bp":5.5},{"valueDate":"2022-06-03","quantile":"50%","bp":5.9},{"valueDate":"2022-06-24","quantile":"50%","bp":6.05},{"valueDate":"2022-07-09","quantile":"50%","bp":6.3},{"valueDate":"2022-07-25","quantile":"50%","bp":7.1},{"valueDate":"2022-08-04","quantile":"50%","bp":7.8},{"valueDate":"2022-08-16","quantile":"50%","bp":7.85},{"valueDate":"2022-08-29","quantile":"50%","bp":6.5},{"valueDate":"2022-09-08","quantile":"50%","bp":7.8},{"valueDate":"2022-09-21","quantile":"50%","bp":7.95},{"valueDate":"2022-10-01","quantile":"50%","bp":8.9},{"valueDate":"2022-10-13","quantile":"50%","bp":7.45},{"valueDate":"2022-10-28","quantile":"50%","bp":8.3},{"valueDate":"2022-11-12","quantile":"50%","bp":8.2},{"valueDate":"2022-11-27","quantile":"50%","bp":8.1},{"valueDate":"2022-12-07","quantile":"50%","bp":6.9},{"valueDate":"2022-12-22","quantile":"50%","bp":6.6},{"valueDate":"2023-01-08","quantile":"50%","bp":6.4},{"valueDate":"2023-02-02","quantile":"50%","bp":6.15},{"valueDate":"2023-03-04","quantile":"50%","bp":6.0},{"valueDate":"2023-03-15","quantile":"50%","bp":5.65},{"valueDate":"2023-03-30","quantile":"50%","bp":6.95},{"valueDate":"2023-04-14","quantile":"50%","bp":6.3},{"valueDate":"2023-05-14","quantile":"50%","bp":5.9},{"valueDate":"2023-06-03","quantile":"50%","bp":5.55},{"valueDate":"2023-07-04","quantile":"50%","bp":5.65},{"valueDate":"2023-08-03","quantile":"50%","bp":5.65},{"valueDate":"2023-08-28","quantile":"50%","bp":5.7},{"valueDate":"2023-09-23","quantile":"50%","bp":6.15},{"valueDate":"2023-10-13","quantile":"50%","bp":5.1},{"valueDate":"2023-10-28","quantile":"50%","bp":6.2},{"valueDate":"2023-11-12","quantile":"50%","bp":5.9},{"valueDate":"2023-12-02","quantile":"50%","bp":5.7},{"valueDate":"2024-01-03","quantile":"50%","bp":6.2},{"valueDate":"2024-01-23","quantile":"50%","bp":6.05},{"valueDate":"2024-02-13","quantile":"50%","bp":5.5},{"valueDate":"2024-03-14","quantile":"50%","bp":5.65},{"valueDate":"2024-04-14","quantile":"50%","bp":5.4},{"valueDate":"2024-05-09","quantile":"50%","bp":5.7},{"valueDate":"2024-06-04","quantile":"50%","bp":5.15},{"valueDate":"2024-07-04","quantile":"50%","bp":5.3},{"valueDate":"2024-08-04","quantile":"50%","bp":5.5},{"valueDate":"2024-08-24","quantile":"50%","bp":5.55},{"valueDate":"2024-09-11","quantile":"50%","bp":4.9},{"valueDate":"2024-09-28","quantile":"50%","bp":5.7},{"valueDate":"2024-10-23","quantile":"50%","bp":5.4},{"valueDate":"2024-11-17","quantile":"50%","bp":5.15},{"valueDate":"2024-12-12","quantile":"50%","bp":5.1},{"valueDate":"2025-01-18","quantile":"50%","bp":5.0},{"valueDate":"2025-02-13","quantile":"50%","bp":4.75},{"valueDate":"2025-03-13","quantile":"50%","bp":4.25},{"valueDate":"2025-03-30","quantile":"50%","bp":4.85},{"valueDate":"2025-04-16","quantile":"50%","bp":5.15},{"valueDate":"2025-05-09","quantile":"50%","bp":4.9},{"valueDate":"2025-06-14","quantile":"50%","bp":5.0},{"valueDate":"2025-07-04","quantile":"50%","bp":4.6},{"valueDate":"2025-08-04","quantile":"50%","bp":4.75},{"valueDate":"2025-08-29","quantile":"50%","bp":4.7},{"valueDate":"2025-09-28","quantile":"50%","bp":4.9},{"valueDate":"2025-10-23","quantile":"50%","bp":4.35},{"valueDate":"2025-11-17","quantile":"50%","bp":4.25},{"valueDate":"2025-12-07","quantile":"50%","bp":4.75},{"valueDate":"2025-12-17","quantile":"50%","bp":4.35},{"valueDate":"2025-12-31","quantile":"50%","bp":4.5},
      {"valueDate":"2019-01-14","quantile":"25%","bp":5.0},{"valueDate":"2019-01-20","quantile":"25%","bp":4.5},{"valueDate":"2019-01-28","quantile":"25%","bp":4.85},{"valueDate":"2019-02-09","quantile":"25%","bp":4.6},{"valueDate":"2019-02-24","quantile":"25%","bp":4.2},{"valueDate":"2019-03-11","quantile":"25%","bp":4.35},{"valueDate":"2019-03-21","quantile":"25%","bp":4.85},{"valueDate":"2019-04-02","quantile":"25%","bp":5.15},{"valueDate":"2019-04-20","quantile":"25%","bp":4.9},{"valueDate":"2019-05-14","quantile":"25%","bp":4.65},{"valueDate":"2019-06-03","quantile":"25%","bp":4.85},{"valueDate":"2019-06-18","quantile":"25%","bp":4.6},{"valueDate":"2019-07-03","quantile":"25%","bp":4.2},{"valueDate":"2019-07-17","quantile":"25%","bp":4.6},{"valueDate":"2019-08-01","quantile":"25%","bp":4.2},{"valueDate":"2019-08-11","quantile":"25%","bp":4.65},{"valueDate":"2019-08-16","quantile":"25%","bp":4.0},{"valueDate":"2019-08-21","quantile":"25%","bp":2.9},{"valueDate":"2019-08-31","quantile":"25%","bp":1.9},{"valueDate":"2019-09-15","quantile":"25%","bp":2.15},{"valueDate":"2019-09-23","quantile":"25%","bp":3.05},{"valueDate":"2019-10-04","quantile":"25%","bp":3.95},{"valueDate":"2019-10-14","quantile":"25%","bp":3.1},{"valueDate":"2019-11-13","quantile":"25%","bp":2.9},{"valueDate":"2019-12-08","quantile":"25%","bp":3.1},{"valueDate":"2019-12-21","quantile":"25%","bp":3.8},{"valueDate":"2019-12-31","quantile":"25%","bp":2.7},{"valueDate":"2020-01-12","quantile":"25%","bp":2.55},{"valueDate":"2020-02-01","quantile":"25%","bp":2.7},{"valueDate":"2020-02-16","quantile":"25%","bp":4.0},{"valueDate":"2020-02-29","quantile":"25%","bp":3.95},{"valueDate":"2020-03-10","quantile":"25%","bp":3.5},{"valueDate":"2020-03-24","quantile":"25%","bp":3.1},{"valueDate":"2020-03-28","quantile":"25%","bp":2.55},{"valueDate":"2020-04-03","quantile":"25%","bp":6.3},{"valueDate":"2020-04-11","quantile":"25%","bp":9.6},{"valueDate":"2020-04-18","quantile":"25%","bp":6.95},{"valueDate":"2020-04-26","quantile":"25%","bp":4.85},{"valueDate":"2020-05-06","quantile":"25%","bp":3.7},{"valueDate":"2020-05-21","quantile":"25%","bp":3.45},{"valueDate":"2020-06-10","quantile":"25%","bp":3.35},{"valueDate":"2020-06-25","quantile":"25%","bp":3.2},{"valueDate":"2020-07-09","quantile":"25%","bp":4.4},{"valueDate":"2020-07-24","quantile":"25%","bp":3.3},{"valueDate":"2020-08-08","quantile":"25%","bp":3.35},{"valueDate":"2020-08-18","quantile":"25%","bp":3.6},{"valueDate":"2020-09-02","quantile":"25%","bp":3.2},{"valueDate":"2020-09-11","quantile":"25%","bp":3.05},{"valueDate":"2020-09-26","quantile":"25%","bp":4.2},{"valueDate":"2020-10-11","quantile":"25%","bp":4.85},{"valueDate":"2020-10-21","quantile":"25%","bp":2.7},{"valueDate":"2020-11-05","quantile":"25%","bp":2.4},{"valueDate":"2020-11-15","quantile":"25%","bp":4.75},{"valueDate":"2020-11-30","quantile":"25%","bp":5.1},{"valueDate":"2020-12-20","quantile":"25%","bp":4.75},{"valueDate":"2021-01-13","quantile":"25%","bp":4.9},{"valueDate":"2021-02-02","quantile":"25%","bp":4.9},{"valueDate":"2021-02-22","quantile":"25%","bp":4.4},{"valueDate":"2021-03-13","quantile":"25%","bp":4.6},{"valueDate":"2021-04-02","quantile":"25%","bp":5.4},{"valueDate":"2021-04-17","quantile":"25%","bp":5.15},{"valueDate":"2021-05-07","quantile":"25%","bp":4.65},{"valueDate":"2021-06-01","quantile":"25%","bp":4.75},{"valueDate":"2021-06-30","quantile":"25%","bp":4.2},{"valueDate":"2021-07-30","quantile":"25%","bp":4.6},{"valueDate":"2021-08-29","quantile":"25%","bp":4.1},{"valueDate":"2021-09-22","quantile":"25%","bp":4.65},{"valueDate":"2021-10-17","quantile":"25%","bp":4.35},{"valueDate":"2021-11-06","quantile":"25%","bp":4.0},{"valueDate":"2021-11-30","quantile":"25%","bp":3.7},{"valueDate":"2021-12-30","quantile":"25%","bp":4.4},{"valueDate":"2022-01-19","quantile":"25%","bp":3.6},{"valueDate":"2022-02-13","quantile":"25%","bp":3.5},{"valueDate":"2022-02-22","quantile":"25%","bp":3.5},{"valueDate":"2022-03-14","quantile":"25%","bp":3.2},{"valueDate":"2022-03-24","quantile":"25%","bp":4.2},{"valueDate":"2022-04-13","quantile":"25%","bp":4.75},{"valueDate":"2022-05-04","quantile":"25%","bp":4.25},{"valueDate":"2022-05-24","quantile":"25%","bp":4.0},{"valueDate":"2022-06-14","quantile":"25%","bp":4.35},{"valueDate":"2022-07-04","quantile":"25%","bp":4.65},{"valueDate":"2022-07-25","quantile":"25%","bp":4.25},{"valueDate":"2022-08-06","quantile":"25%","bp":5.0},{"valueDate":"2022-08-29","quantile":"25%","bp":3.95},{"valueDate":"2022-09-08","quantile":"25%","bp":4.85},{"valueDate":"2022-09-28","quantile":"25%","bp":5.1},{"valueDate":"2022-10-18","quantile":"25%","bp":5.0},{"valueDate":"2022-11-10","quantile":"25%","bp":5.25},{"valueDate":"2022-11-27","quantile":"25%","bp":5.1},{"valueDate":"2022-12-12","quantile":"25%","bp":4.4},{"valueDate":"2022-12-22","quantile":"25%","bp":4.2},{"valueDate":"2023-01-13","quantile":"25%","bp":4.85},{"valueDate":"2023-02-07","quantile":"25%","bp":4.85},{"valueDate":"2023-03-04","quantile":"25%","bp":4.85},{"valueDate":"2023-03-15","quantile":"25%","bp":4.25},{"valueDate":"2023-03-31","quantile":"25%","bp":5.15},{"valueDate":"2023-04-14","quantile":"25%","bp":4.85},{"valueDate":"2023-05-04","quantile":"25%","bp":4.35},{"valueDate":"2023-06-03","quantile":"25%","bp":4.1},{"valueDate":"2023-07-09","quantile":"25%","bp":4.1},{"valueDate":"2023-08-08","quantile":"25%","bp":4.5},{"valueDate":"2023-08-28","quantile":"25%","bp":4.35},{"valueDate":"2023-09-23","quantile":"25%","bp":4.85},{"valueDate":"2023-10-13","quantile":"25%","bp":3.8},{"valueDate":"2023-10-28","quantile":"25%","bp":4.65},{"valueDate":"2023-11-22","quantile":"25%","bp":4.5},{"valueDate":"2023-12-23","quantile":"25%","bp":4.9},{"valueDate":"2024-01-23","quantile":"25%","bp":5.0},{"valueDate":"2024-02-13","quantile":"25%","bp":4.35},{"valueDate":"2024-03-14","quantile":"25%","bp":4.35},{"valueDate":"2024-04-14","quantile":"25%","bp":4.1},{"valueDate":"2024-05-09","quantile":"25%","bp":4.5},{"valueDate":"2024-06-14","quantile":"25%","bp":3.95},{"valueDate":"2024-07-14","quantile":"25%","bp":4.2},{"valueDate":"2024-08-04","quantile":"25%","bp":4.0},{"valueDate":"2024-08-24","quantile":"25%","bp":4.35},{"valueDate":"2024-09-08","quantile":"25%","bp":3.95},{"valueDate":"2024-09-28","quantile":"25%","bp":4.6},{"valueDate":"2024-10-23","quantile":"25%","bp":4.2},{"valueDate":"2024-11-22","quantile":"25%","bp":3.85},{"valueDate":"2024-12-23","quantile":"25%","bp":3.95},{"valueDate":"2025-01-18","quantile":"25%","bp":4.0},{"valueDate":"2025-02-13","quantile":"25%","bp":3.8},{"valueDate":"2025-03-10","quantile":"25%","bp":3.3},{"valueDate":"2025-03-30","quantile":"25%","bp":3.8},{"valueDate":"2025-04-19","quantile":"25%","bp":3.85},{"valueDate":"2025-05-14","quantile":"25%","bp":3.7},{"valueDate":"2025-06-14","quantile":"25%","bp":3.85},{"valueDate":"2025-07-04","quantile":"25%","bp":3.6},{"valueDate":"2025-08-04","quantile":"25%","bp":3.8},{"valueDate":"2025-09-03","quantile":"25%","bp":3.8},{"valueDate":"2025-09-28","quantile":"25%","bp":3.85},{"valueDate":"2025-10-18","quantile":"25%","bp":3.45},{"valueDate":"2025-11-12","quantile":"25%","bp":3.2},{"valueDate":"2025-12-04","quantile":"25%","bp":3.7},{"valueDate":"2025-12-17","quantile":"25%","bp":3.3},{"valueDate":"2025-12-31","quantile":"25%","bp":3.4}
    ],
    "m5": [
      {"valueDate":"2019-01-13","quantile":"75%","bp":113},{"valueDate":"2019-01-19","quantile":"75%","bp":105.5},{"valueDate":"2019-01-29","quantile":"75%","bp":98.4},{"valueDate":"2019-02-12","quantile":"75%","bp":96.3},{"valueDate":"2019-02-26","quantile":"75%","bp":86.1},{"valueDate":"2019-03-07","quantile":"75%","bp":92.2},{"valueDate":"2019-03-16","quantile":"75%","bp":86.1},{"valueDate":"2019-03-24","quantile":"75%","bp":88.2},{"valueDate":"2019-04-08","quantile":"75%","bp":75.9},{"valueDate":"2019-04-22","quantile":"75%","bp":74.9},{"valueDate":"2019-05-06","quantile":"75%","bp":82},{"valueDate":"2019-05-21","quantile":"75%","bp":87.1},{"valueDate":"2019-06-01","quantile":"75%","bp":93.3},{"valueDate":"2019-06-13","quantile":"75%","bp":82},{"valueDate":"2019-06-23","quantile":"75%","bp":73.9},{"valueDate":"2019-07-07","quantile":"75%","bp":73.9},{"valueDate":"2019-07-25","quantile":"75%","bp":71.8},{"valueDate":"2019-08-03","quantile":"75%","bp":83},{"valueDate":"2019-08-15","quantile":"75%","bp":85.1},{"valueDate":"2019-09-01","quantile":"75%","bp":78},{"valueDate":"2019-09-15","quantile":"75%","bp":69.8},{"valueDate":"2019-09-29","quantile":"75%","bp":75.9},{"valueDate":"2019-10-08","quantile":"75%","bp":79},{"valueDate":"2019-10-17","quantile":"75%","bp":70.8},{"valueDate":"2019-11-04","quantile":"75%","bp":67.8},{"valueDate":"2019-11-28","quantile":"75%","bp":67.8},{"valueDate":"2019-12-12","quantile":"75%","bp":62.7},{"valueDate":"2020-01-04","quantile":"75%","bp":62.7},{"valueDate":"2020-01-19","quantile":"75%","bp":60.6},{"valueDate":"2020-01-30","quantile":"75%","bp":66.7},{"valueDate":"2020-02-16","quantile":"75%","bp":59.6},{"valueDate":"2020-02-25","quantile":"75%","bp":69.8},{"valueDate":"2020-03-01","quantile":"75%","bp":90.2},{"valueDate":"2020-03-08","quantile":"75%","bp":145.3},{"valueDate":"2020-03-12","quantile":"75%","bp":186},{"valueDate":"2020-03-17","quantile":"75%","bp":214.7},{"valueDate":"2020-03-23","quantile":"75%","bp":203.5},{"valueDate":"2020-03-26","quantile":"75%","bp":156.5},{"valueDate":"2020-04-03","quantile":"75%","bp":182},{"valueDate":"2020-04-07","quantile":"75%","bp":171.8},{"valueDate":"2020-04-12","quantile":"75%","bp":129},{"valueDate":"2020-04-19","quantile":"75%","bp":155.5},{"valueDate":"2020-04-29","quantile":"75%","bp":135},{"valueDate":"2020-05-10","quantile":"75%","bp":139.2},{"valueDate":"2020-05-19","quantile":"75%","bp":118.8},{"valueDate":"2020-05-29","quantile":"75%","bp":106.5},{"valueDate":"2020-06-07","quantile":"75%","bp":85.1},{"valueDate":"2020-06-17","quantile":"75%","bp":105.5},{"valueDate":"2020-07-01","quantile":"75%","bp":100.4},{"valueDate":"2020-07-15","quantile":"75%","bp":92.2},{"valueDate":"2020-07-29","quantile":"75%","bp":84},{"valueDate":"2020-08-12","quantile":"75%","bp":75.9},{"valueDate":"2020-08-30","quantile":"75%","bp":72.9},{"valueDate":"2020-09-14","quantile":"75%","bp":79},{"valueDate":"2020-09-26","quantile":"75%","bp":89.2},{"valueDate":"2020-10-09","quantile":"75%","bp":79},{"valueDate":"2020-10-21","quantile":"75%","bp":85.1},{"valueDate":"2020-10-31","quantile":"75%","bp":97.3},{"valueDate":"2020-11-08","quantile":"75%","bp":76.9},{"valueDate":"2020-11-23","quantile":"75%","bp":74.9},{"valueDate":"2020-12-12","quantile":"75%","bp":74.9},{"valueDate":"2021-01-08","quantile":"75%","bp":73.9},{"valueDate":"2021-01-27","quantile":"75%","bp":79},{"valueDate":"2021-02-10","quantile":"75%","bp":71.8},{"valueDate":"2021-02-28","quantile":"75%","bp":75.9},{"valueDate":"2021-03-19","quantile":"75%","bp":76.9},{"valueDate":"2021-04-02","quantile":"75%","bp":67.8},{"valueDate":"2021-04-29","quantile":"75%","bp":69.8},{"valueDate":"2021-05-19","quantile":"75%","bp":72.9},{"valueDate":"2021-06-06","quantile":"75%","bp":66.7},{"valueDate":"2021-07-05","quantile":"75%","bp":68.8},{"valueDate":"2021-08-01","quantile":"75%","bp":67.8},{"valueDate":"2021-08-25","quantile":"75%","bp":69.8},{"valueDate":"2021-09-03","quantile":"75%","bp":63.7},{"valueDate":"2021-09-26","quantile":"75%","bp":66.7},{"valueDate":"2021-10-25","quantile":"75%","bp":67.8},{"valueDate":"2021-11-08","quantile":"75%","bp":64.7},{"valueDate":"2021-11-26","quantile":"75%","bp":76.9},{"valueDate":"2021-12-10","quantile":"75%","bp":71.8},{"valueDate":"2021-12-29","quantile":"75%","bp":67.8},{"valueDate":"2022-01-16","quantile":"75%","bp":74.9},{"valueDate":"2022-02-04","quantile":"75%","bp":81},{"valueDate":"2022-02-23","quantile":"75%","bp":94.3},{"valueDate":"2022-03-05","quantile":"75%","bp":113.7},{"valueDate":"2022-03-18","quantile":"75%","bp":94.3},{"valueDate":"2022-03-31","quantile":"75%","bp":86.1},{"valueDate":"2022-04-19","quantile":"75%","bp":98.4},{"valueDate":"2022-05-08","quantile":"75%","bp":120.8},{"valueDate":"2022-05-22","quantile":"75%","bp":113.7},{"valueDate":"2022-06-06","quantile":"75%","bp":124.9},{"valueDate":"2022-06-11","quantile":"75%","bp":114.7},{"valueDate":"2022-06-20","quantile":"75%","bp":147.3},{"valueDate":"2022-07-02","quantile":"75%","bp":159.6},{"valueDate":"2022-07-09","quantile":"75%","bp":151.4},{"valueDate":"2022-07-17","quantile":"75%","bp":155.5},{"valueDate":"2022-07-21","quantile":"75%","bp":137.1},{"valueDate":"2022-08-02","quantile":"75%","bp":133},{"valueDate":"2022-08-14","quantile":"75%","bp":118.8},{"valueDate":"2022-08-24","quantile":"75%","bp":133},{"valueDate":"2022-09-03","quantile":"75%","bp":149.4},{"valueDate":"2022-09-12","quantile":"75%","bp":127},{"valueDate":"2022-09-22","quantile":"75%","bp":145.3},{"valueDate":"2022-09-29","quantile":"75%","bp":160.6},{"valueDate":"2022-10-08","quantile":"75%","bp":144.3},{"valueDate":"2022-10-18","quantile":"75%","bp":149.4},{"valueDate":"2022-11-01","quantile":"75%","bp":139.2},{"valueDate":"2022-11-11","quantile":"75%","bp":120.8},{"valueDate":"2022-11-25","quantile":"75%","bp":116.7},{"valueDate":"2022-12-05","quantile":"75%","bp":115.7},{"valueDate":"2022-12-24","quantile":"75%","bp":119.8},{"valueDate":"2023-01-09","quantile":"75%","bp":102.4},{"valueDate":"2023-01-31","quantile":"75%","bp":94.3},{"valueDate":"2023-02-25","quantile":"75%","bp":101.4},{"valueDate":"2023-03-06","quantile":"75%","bp":98.4},{"valueDate":"2023-03-18","quantile":"75%","bp":127},{"valueDate":"2023-03-26","quantile":"75%","bp":108.6},{"valueDate":"2023-04-15","quantile":"75%","bp":104.5},{"valueDate":"2023-05-04","quantile":"75%","bp":115.7},{"valueDate":"2023-05-31","quantile":"75%","bp":103.5},{"valueDate":"2023-06-29","quantile":"75%","bp":102.4},{"valueDate":"2023-07-13","quantile":"75%","bp":95.3},{"valueDate":"2023-07-28","quantile":"75%","bp":91.2},{"valueDate":"2023-08-21","quantile":"75%","bp":99.4},{"valueDate":"2023-09-04","quantile":"75%","bp":92.2},{"valueDate":"2023-09-23","quantile":"75%","bp":96.3},{"valueDate":"2023-10-07","quantile":"75%","bp":100.4},{"valueDate":"2023-10-22","quantile":"75%","bp":109.6},{"valueDate":"2023-11-05","quantile":"75%","bp":96.3},{"valueDate":"2023-11-18","quantile":"75%","bp":87.1},{"valueDate":"2023-12-08","quantile":"75%","bp":84.1},{"valueDate":"2023-12-16","quantile":"75%","bp":76.9},{"valueDate":"2024-01-04","quantile":"75%","bp":81},{"valueDate":"2024-01-31","quantile":"75%","bp":75.9},{"valueDate":"2024-02-24","quantile":"75%","bp":72.9},{"valueDate":"2024-03-14","quantile":"75%","bp":66.7},{"valueDate":"2024-04-02","quantile":"75%","bp":63.7},{"valueDate":"2024-04-17","quantile":"75%","bp":70.8},{"valueDate":"2024-05-20","quantile":"75%","bp":60.6},{"valueDate":"2024-06-18","quantile":"75%","bp":71.8},{"valueDate":"2024-06-28","quantile":"75%","bp":67.8},{"valueDate":"2024-07-17","quantile":"75%","bp":64.7},{"valueDate":"2024-08-04","quantile":"75%","bp":75.9},{"valueDate":"2024-08-16","quantile":"75%","bp":64.7},{"valueDate":"2024-09-09","quantile":"75%","bp":70.8},{"valueDate":"2024-09-27","quantile":"75%","bp":65.7},{"valueDate":"2024-10-31","quantile":"75%","bp":63.7},{"valueDate":"2024-12-08","quantile":"75%","bp":61.6},{"valueDate":"2025-01-11","quantile":"75%","bp":67.8},{"valueDate":"2025-02-19","quantile":"75%","bp":63.7},{"valueDate":"2025-03-15","quantile":"75%","bp":69.8},{"valueDate":"2025-03-29","quantile":"75%","bp":72.9},{"valueDate":"2025-04-09","quantile":"75%","bp":98.8},{"valueDate":"2025-04-17","quantile":"75%","bp":86.1},{"valueDate":"2025-05-02","quantile":"75%","bp":81},{"valueDate":"2025-05-13","quantile":"75%","bp":67.8},{"valueDate":"2025-06-19","quantile":"75%","bp":68.8},{"valueDate":"2025-07-08","quantile":"75%","bp":64.7},{"valueDate":"2025-08-06","quantile":"75%","bp":65.7},{"valueDate":"2025-09-02","quantile":"75%","bp":67.8},{"valueDate":"2025-09-27","quantile":"75%","bp":62.7},{"valueDate":"2025-10-21","quantile":"75%","bp":64.7},{"valueDate":"2025-11-19","quantile":"75%","bp":67.8},{"valueDate":"2025-12-08","quantile":"75%","bp":63.7},{"valueDate":"2025-12-31","quantile":"75%","bp":62},
      {"valueDate":"2019-01-13","quantile":"50%","bp":79.6},{"valueDate":"2019-01-24","quantile":"50%","bp":74.9},{"valueDate":"2019-02-07","quantile":"50%","bp":67.8},{"valueDate":"2019-02-26","quantile":"50%","bp":65.7},{"valueDate":"2019-03-12","quantile":"50%","bp":61.6},{"valueDate":"2019-03-26","quantile":"50%","bp":61.6},{"valueDate":"2019-04-13","quantile":"50%","bp":54.5},{"valueDate":"2019-05-06","quantile":"50%","bp":63.7},{"valueDate":"2019-05-21","quantile":"50%","bp":61.6},{"valueDate":"2019-06-01","quantile":"50%","bp":66.7},{"valueDate":"2019-06-13","quantile":"50%","bp":56.5},{"valueDate":"2019-07-02","quantile":"50%","bp":51.4},{"valueDate":"2019-07-25","quantile":"50%","bp":49.4},{"valueDate":"2019-08-06","quantile":"50%","bp":57.6},{"valueDate":"2019-08-18","quantile":"50%","bp":56.5},{"valueDate":"2019-09-10","quantile":"50%","bp":49.4},{"valueDate":"2019-10-05","quantile":"50%","bp":56.5},{"valueDate":"2019-10-26","quantile":"50%","bp":49.4},{"valueDate":"2019-11-24","quantile":"50%","bp":50.4},{"valueDate":"2019-12-12","quantile":"50%","bp":45.3},{"valueDate":"2020-01-19","quantile":"50%","bp":46.3},{"valueDate":"2020-02-01","quantile":"50%","bp":47.3},{"valueDate":"2020-02-16","quantile":"50%","bp":42.2},{"valueDate":"2020-02-25","quantile":"50%","bp":53.5},{"valueDate":"2020-03-05","quantile":"50%","bp":84.1},{"valueDate":"2020-03-13","quantile":"50%","bp":106.5},{"valueDate":"2020-03-18","quantile":"50%","bp":121.8},{"valueDate":"2020-03-25","quantile":"50%","bp":81},{"valueDate":"2020-04-03","quantile":"50%","bp":91.2},{"valueDate":"2020-04-10","quantile":"50%","bp":69.8},{"valueDate":"2020-04-19","quantile":"50%","bp":62.7},{"valueDate":"2020-05-01","quantile":"50%","bp":65.7},{"valueDate":"2020-05-15","quantile":"50%","bp":69.8},{"valueDate":"2020-05-29","quantile":"50%","bp":55.5},{"valueDate":"2020-06-07","quantile":"50%","bp":47.3},{"valueDate":"2020-06-26","quantile":"50%","bp":56.5},{"valueDate":"2020-07-15","quantile":"50%","bp":51.4},{"valueDate":"2020-08-03","quantile":"50%","bp":50.4},{"valueDate":"2020-08-30","quantile":"50%","bp":44.3},{"valueDate":"2020-09-26","quantile":"50%","bp":56.5},{"valueDate":"2020-10-12","quantile":"50%","bp":45.3},{"valueDate":"2020-10-31","quantile":"50%","bp":56.5},{"valueDate":"2020-11-10","quantile":"50%","bp":42.2},{"valueDate":"2020-12-12","quantile":"50%","bp":47.3},{"valueDate":"2021-01-08","quantile":"50%","bp":47.3},{"valueDate":"2021-01-31","quantile":"50%","bp":50.4},{"valueDate":"2021-03-05","quantile":"50%","bp":52.4},{"valueDate":"2021-04-02","quantile":"50%","bp":46.3},{"valueDate":"2021-05-19","quantile":"50%","bp":50.4},{"valueDate":"2021-06-25","quantile":"50%","bp":46.3},{"valueDate":"2021-08-01","quantile":"50%","bp":48.4},{"valueDate":"2021-09-08","quantile":"50%","bp":45.3},{"valueDate":"2021-10-15","quantile":"50%","bp":50.4},{"valueDate":"2021-11-08","quantile":"50%","bp":46.3},{"valueDate":"2021-11-26","quantile":"50%","bp":56.5},{"valueDate":"2021-12-29","quantile":"50%","bp":46.3},{"valueDate":"2022-01-21","quantile":"50%","bp":51.4},{"valueDate":"2022-02-09","quantile":"50%","bp":65.7},{"valueDate":"2022-02-23","quantile":"50%","bp":70.8},{"valueDate":"2022-03-05","quantile":"50%","bp":84.1},{"valueDate":"2022-03-18","quantile":"50%","bp":69.8},{"valueDate":"2022-03-31","quantile":"50%","bp":63.7},{"valueDate":"2022-04-19","quantile":"50%","bp":71.8},{"valueDate":"2022-05-08","quantile":"50%","bp":88.2},{"valueDate":"2022-05-27","quantile":"50%","bp":79},{"valueDate":"2022-06-11","quantile":"50%","bp":81},{"valueDate":"2022-06-20","quantile":"50%","bp":102.4},{"valueDate":"2022-07-05","quantile":"50%","bp":109.6},{"valueDate":"2022-07-19","quantile":"50%","bp":98.4},{"valueDate":"2022-08-02","quantile":"50%","bp":92.2},{"valueDate":"2022-08-14","quantile":"50%","bp":86.1},{"valueDate":"2022-08-24","quantile":"50%","bp":97.3},{"valueDate":"2022-09-03","quantile":"50%","bp":103.5},{"valueDate":"2022-09-12","quantile":"50%","bp":91.2},{"valueDate":"2022-09-22","quantile":"50%","bp":105.5},{"valueDate":"2022-09-29","quantile":"50%","bp":116.7},{"valueDate":"2022-10-08","quantile":"50%","bp":104.5},{"valueDate":"2022-10-18","quantile":"50%","bp":106.5},{"valueDate":"2022-11-01","quantile":"50%","bp":92.2},{"valueDate":"2022-11-13","quantile":"50%","bp":81},{"valueDate":"2022-11-30","quantile":"50%","bp":79},{"valueDate":"2022-12-19","quantile":"50%","bp":88.2},{"valueDate":"2023-01-07","quantile":"50%","bp":75.9},{"valueDate":"2023-01-31","quantile":"50%","bp":70.8},{"valueDate":"2023-02-25","quantile":"50%","bp":74.9},{"valueDate":"2023-03-08","quantile":"50%","bp":73.9},{"valueDate":"2023-03-17","quantile":"50%","bp":91.2},{"valueDate":"2023-03-30","quantile":"50%","bp":73.9},{"valueDate":"2023-04-18","quantile":"50%","bp":69.8},{"valueDate":"2023-05-07","quantile":"50%","bp":81},{"valueDate":"2023-06-05","quantile":"50%","bp":74.9},{"valueDate":"2023-06-29","quantile":"50%","bp":73.9},{"valueDate":"2023-07-28","quantile":"50%","bp":64.7},{"valueDate":"2023-08-21","quantile":"50%","bp":72.9},{"valueDate":"2023-09-04","quantile":"50%","bp":65.7},{"valueDate":"2023-10-03","quantile":"50%","bp":72.9},{"valueDate":"2023-10-20","quantile":"50%","bp":79},{"valueDate":"2023-11-05","quantile":"50%","bp":69.8},{"valueDate":"2023-11-18","quantile":"50%","bp":60.6},{"valueDate":"2023-12-13","quantile":"50%","bp":59.6},{"valueDate":"2024-01-05","quantile":"50%","bp":58.6},{"valueDate":"2024-01-31","quantile":"50%","bp":54.5},{"valueDate":"2024-03-04","quantile":"50%","bp":51.4},{"valueDate":"2024-03-24","quantile":"50%","bp":46.3},{"valueDate":"2024-04-17","quantile":"50%","bp":50.4},{"valueDate":"2024-05-20","quantile":"50%","bp":44.3},{"valueDate":"2024-06-18","quantile":"50%","bp":52.4},{"valueDate":"2024-07-13","quantile":"50%","bp":48.4},{"valueDate":"2024-08-04","quantile":"50%","bp":60.6},{"valueDate":"2024-08-16","quantile":"50%","bp":48.4},{"valueDate":"2024-09-09","quantile":"50%","bp":51.4},{"valueDate":"2024-10-02","quantile":"50%","bp":47.3},{"valueDate":"2024-11-09","quantile":"50%","bp":49.4},{"valueDate":"2024-12-13","quantile":"50%","bp":46.3},{"valueDate":"2025-01-11","quantile":"50%","bp":51.4},{"valueDate":"2025-02-19","quantile":"50%","bp":47.3},{"valueDate":"2025-03-15","quantile":"50%","bp":50.4},{"valueDate":"2025-03-29","quantile":"50%","bp":55.5},{"valueDate":"2025-04-09","quantile":"50%","bp":69.8},{"valueDate":"2025-04-17","quantile":"50%","bp":59.6},{"valueDate":"2025-05-02","quantile":"50%","bp":56.5},{"valueDate":"2025-05-13","quantile":"50%","bp":49.4},{"valueDate":"2025-06-19","quantile":"50%","bp":51.4},{"valueDate":"2025-07-17","quantile":"50%","bp":48.4},{"valueDate":"2025-08-20","quantile":"50%","bp":45.3},{"valueDate":"2025-09-13","quantile":"50%","bp":49.4},{"valueDate":"2025-10-07","quantile":"50%","bp":46.3},{"valueDate":"2025-11-09","quantile":"50%","bp":48.4},{"valueDate":"2025-12-08","quantile":"50%","bp":46.3},{"valueDate":"2025-12-31","quantile":"50%","bp":45.7},
      {"valueDate":"2019-01-13","quantile":"25%","bp":50.4},{"valueDate":"2019-01-29","quantile":"25%","bp":44.3},{"valueDate":"2019-02-17","quantile":"25%","bp":41.2},{"valueDate":"2019-03-07","quantile":"25%","bp":39.2},{"valueDate":"2019-03-26","quantile":"25%","bp":37.1},{"valueDate":"2019-04-13","quantile":"25%","bp":34.1},{"valueDate":"2019-05-11","quantile":"25%","bp":41.2},{"valueDate":"2019-06-01","quantile":"25%","bp":43.3},{"valueDate":"2019-06-18","quantile":"25%","bp":33.1},{"valueDate":"2019-07-16","quantile":"25%","bp":31},{"valueDate":"2019-08-03","quantile":"25%","bp":35.1},{"valueDate":"2019-08-23","quantile":"25%","bp":31},{"valueDate":"2019-09-15","quantile":"25%","bp":28},{"valueDate":"2019-10-03","quantile":"25%","bp":33.1},{"valueDate":"2019-10-26","quantile":"25%","bp":29},{"valueDate":"2019-11-24","quantile":"25%","bp":28},{"valueDate":"2019-12-17","quantile":"25%","bp":25.9},{"valueDate":"2020-01-19","quantile":"25%","bp":26.9},{"valueDate":"2020-02-01","quantile":"25%","bp":28},{"valueDate":"2020-02-16","quantile":"25%","bp":25.9},{"valueDate":"2020-02-25","quantile":"25%","bp":35.1},{"valueDate":"2020-03-08","quantile":"25%","bp":57.6},{"valueDate":"2020-03-17","quantile":"25%","bp":64.7},{"valueDate":"2020-03-23","quantile":"25%","bp":52.4},{"valueDate":"2020-03-29","quantile":"25%","bp":46.3},{"valueDate":"2020-04-07","quantile":"25%","bp":46.3},{"valueDate":"2020-04-12","quantile":"25%","bp":35.1},{"valueDate":"2020-04-26","quantile":"25%","bp":32},{"valueDate":"2020-05-15","quantile":"25%","bp":35.1},{"valueDate":"2020-06-03","quantile":"25%","bp":28},{"valueDate":"2020-06-26","quantile":"25%","bp":32},{"valueDate":"2020-07-24","quantile":"25%","bp":26.9},{"valueDate":"2020-08-30","quantile":"25%","bp":23.9},{"valueDate":"2020-09-26","quantile":"25%","bp":31},{"valueDate":"2020-10-12","quantile":"25%","bp":28},{"valueDate":"2020-10-31","quantile":"25%","bp":33.1},{"valueDate":"2020-11-08","quantile":"25%","bp":23.9},{"valueDate":"2020-12-12","quantile":"25%","bp":30},{"valueDate":"2021-01-08","quantile":"25%","bp":31},{"valueDate":"2021-02-05","quantile":"25%","bp":34.1},{"valueDate":"2021-03-05","quantile":"25%","bp":38.2},{"valueDate":"2021-04-02","quantile":"25%","bp":32},{"valueDate":"2021-05-19","quantile":"25%","bp":35.1},{"valueDate":"2021-06-25","quantile":"25%","bp":34.1},{"valueDate":"2021-08-01","quantile":"25%","bp":34.1},{"valueDate":"2021-09-26","quantile":"25%","bp":32},{"valueDate":"2021-11-03","quantile":"25%","bp":33.1},{"valueDate":"2021-11-26","quantile":"25%","bp":37.1},{"valueDate":"2021-12-29","quantile":"25%","bp":32},{"valueDate":"2022-01-21","quantile":"25%","bp":39.2},{"valueDate":"2022-02-09","quantile":"25%","bp":44.3},{"valueDate":"2022-02-23","quantile":"25%","bp":47.3},{"valueDate":"2022-03-05","quantile":"25%","bp":56.5},{"valueDate":"2022-03-18","quantile":"25%","bp":46.3},{"valueDate":"2022-03-31","quantile":"25%","bp":40.2},{"valueDate":"2022-04-19","quantile":"25%","bp":46.3},{"valueDate":"2022-05-08","quantile":"25%","bp":56.5},{"valueDate":"2022-05-22","quantile":"25%","bp":54.5},{"valueDate":"2022-06-11","quantile":"25%","bp":51.4},{"valueDate":"2022-06-20","quantile":"25%","bp":64.7},{"valueDate":"2022-07-05","quantile":"25%","bp":68.8},{"valueDate":"2022-07-19","quantile":"25%","bp":55.5},{"valueDate":"2022-08-12","quantile":"25%","bp":49.4},{"valueDate":"2022-09-03","quantile":"25%","bp":63.7},{"valueDate":"2022-09-12","quantile":"25%","bp":56.5},{"valueDate":"2022-09-29","quantile":"25%","bp":70.8},{"valueDate":"2022-10-08","quantile":"25%","bp":63.7},{"valueDate":"2022-10-18","quantile":"25%","bp":67.8},{"valueDate":"2022-11-01","quantile":"25%","bp":59.6},{"valueDate":"2022-11-13","quantile":"25%","bp":51.4},{"valueDate":"2022-12-05","quantile":"25%","bp":53.5},{"valueDate":"2022-12-24","quantile":"25%","bp":55.5},{"valueDate":"2023-01-12","quantile":"25%","bp":47.3},{"valueDate":"2023-02-20","quantile":"25%","bp":51.4},{"valueDate":"2023-03-16","quantile":"25%","bp":59.6},{"valueDate":"2023-03-26","quantile":"25%","bp":50.4},{"valueDate":"2023-05-07","quantile":"25%","bp":50.4},{"valueDate":"2023-06-10","quantile":"25%","bp":46.3},{"valueDate":"2023-07-13","quantile":"25%","bp":43.3},{"valueDate":"2023-08-21","quantile":"25%","bp":47.3},{"valueDate":"2023-09-04","quantile":"25%","bp":44.3},{"valueDate":"2023-10-03","quantile":"25%","bp":48.4},{"valueDate":"2023-10-22","quantile":"25%","bp":52.4},{"valueDate":"2023-11-15","quantile":"25%","bp":41.2},{"valueDate":"2023-12-13","quantile":"25%","bp":39.2},{"valueDate":"2024-01-05","quantile":"25%","bp":41.2},{"valueDate":"2024-01-31","quantile":"25%","bp":37.1},{"valueDate":"2024-03-04","quantile":"25%","bp":35.1},{"valueDate":"2024-03-24","quantile":"25%","bp":32},{"valueDate":"2024-04-17","quantile":"25%","bp":36.1},{"valueDate":"2024-05-16","quantile":"25%","bp":32},{"valueDate":"2024-06-14","quantile":"25%","bp":37.1},{"valueDate":"2024-07-13","quantile":"25%","bp":35.1},{"valueDate":"2024-08-04","quantile":"25%","bp":42.2},{"valueDate":"2024-08-21","quantile":"25%","bp":34.1},{"valueDate":"2024-09-11","quantile":"25%","bp":36.1},{"valueDate":"2024-10-02","quantile":"25%","bp":33.1},{"valueDate":"2024-11-09","quantile":"25%","bp":33.1},{"valueDate":"2024-12-18","quantile":"25%","bp":35.1},{"valueDate":"2025-01-11","quantile":"25%","bp":36.1},{"valueDate":"2025-02-19","quantile":"25%","bp":33.1},{"valueDate":"2025-03-15","quantile":"25%","bp":37.1},{"valueDate":"2025-03-29","quantile":"25%","bp":36.1},{"valueDate":"2025-04-09","quantile":"25%","bp":49.4},{"valueDate":"2025-04-17","quantile":"25%","bp":41.2},{"valueDate":"2025-05-02","quantile":"25%","bp":39.2},{"valueDate":"2025-05-13","quantile":"25%","bp":34.1},{"valueDate":"2025-06-19","quantile":"25%","bp":35.1},{"valueDate":"2025-07-17","quantile":"25%","bp":33.1},{"valueDate":"2025-08-25","quantile":"25%","bp":35.1},{"valueDate":"2025-09-23","quantile":"25%","bp":32},{"valueDate":"2025-10-21","quantile":"25%","bp":34.1},{"valueDate":"2025-11-19","quantile":"25%","bp":33.1},{"valueDate":"2025-12-31","quantile":"25%","bp":31.4}
    ],
    "b5": [
      {"valueDate":"2019-01-14","quantile":"75%","bp":5.1},{"valueDate":"2019-01-25","quantile":"75%","bp":5.15},{"valueDate":"2019-02-04","quantile":"75%","bp":4.9},{"valueDate":"2019-02-14","quantile":"75%","bp":4.6},{"valueDate":"2019-03-01","quantile":"75%","bp":4.65},{"valueDate":"2019-03-11","quantile":"75%","bp":4.45},{"valueDate":"2019-03-26","quantile":"75%","bp":5.1},{"valueDate":"2019-04-10","quantile":"75%","bp":5.3},{"valueDate":"2019-04-25","quantile":"75%","bp":4.8},{"valueDate":"2019-05-19","quantile":"75%","bp":4.65},{"valueDate":"2019-06-13","quantile":"75%","bp":4.6},{"valueDate":"2019-06-28","quantile":"75%","bp":4.3},{"valueDate":"2019-07-17","quantile":"75%","bp":4.3},{"valueDate":"2019-08-01","quantile":"75%","bp":4.1},{"valueDate":"2019-08-16","quantile":"75%","bp":4.5},{"valueDate":"2019-08-31","quantile":"75%","bp":4.3},{"valueDate":"2019-09-13","quantile":"75%","bp":4.6},{"valueDate":"2019-09-30","quantile":"75%","bp":4.8},{"valueDate":"2019-10-14","quantile":"75%","bp":4.75},{"valueDate":"2019-10-29","quantile":"75%","bp":4.65},{"valueDate":"2019-11-18","quantile":"75%","bp":4.35},{"valueDate":"2019-12-08","quantile":"75%","bp":4.2},{"valueDate":"2020-01-12","quantile":"75%","bp":4.1},{"valueDate":"2020-02-01","quantile":"75%","bp":3.95},{"valueDate":"2020-02-16","quantile":"75%","bp":4.05},{"valueDate":"2020-02-26","quantile":"75%","bp":3.8},{"valueDate":"2020-03-04","quantile":"75%","bp":4.35},{"valueDate":"2020-03-12","quantile":"75%","bp":6.95},{"valueDate":"2020-03-17","quantile":"75%","bp":8.8},{"valueDate":"2020-03-22","quantile":"75%","bp":12.5},{"valueDate":"2020-03-27","quantile":"75%","bp":14.1},{"valueDate":"2020-04-02","quantile":"75%","bp":16.1},{"valueDate":"2020-04-09","quantile":"75%","bp":15.45},{"valueDate":"2020-04-16","quantile":"75%","bp":14.7},{"valueDate":"2020-04-26","quantile":"75%","bp":13.3},{"valueDate":"2020-05-06","quantile":"75%","bp":12.2},{"valueDate":"2020-05-13","quantile":"75%","bp":11.3},{"valueDate":"2020-05-21","quantile":"75%","bp":10.0},{"valueDate":"2020-05-29","quantile":"75%","bp":9.45},{"valueDate":"2020-06-05","quantile":"75%","bp":8.05},{"valueDate":"2020-06-15","quantile":"75%","bp":7.8},{"valueDate":"2020-06-25","quantile":"75%","bp":8.05},{"valueDate":"2020-07-04","quantile":"75%","bp":7.45},{"valueDate":"2020-07-14","quantile":"75%","bp":6.95},{"valueDate":"2020-07-29","quantile":"75%","bp":6.1},{"valueDate":"2020-08-13","quantile":"75%","bp":6.3},{"valueDate":"2020-08-28","quantile":"75%","bp":6.05},{"valueDate":"2020-09-11","quantile":"75%","bp":5.5},{"valueDate":"2020-09-26","quantile":"75%","bp":5.75},{"valueDate":"2020-10-14","quantile":"75%","bp":6.3},{"valueDate":"2020-10-26","quantile":"75%","bp":5.75},{"valueDate":"2020-11-10","quantile":"75%","bp":5.45},{"valueDate":"2020-11-25","quantile":"75%","bp":5.6},{"valueDate":"2020-12-15","quantile":"75%","bp":5.1},{"valueDate":"2021-01-13","quantile":"75%","bp":5.1},{"valueDate":"2021-02-02","quantile":"75%","bp":4.9},{"valueDate":"2021-02-22","quantile":"75%","bp":4.35},{"valueDate":"2021-03-18","quantile":"75%","bp":4.35},{"valueDate":"2021-04-07","quantile":"75%","bp":5.1},{"valueDate":"2021-04-24","quantile":"75%","bp":5.5},{"valueDate":"2021-05-12","quantile":"75%","bp":5.05},{"valueDate":"2021-06-01","quantile":"75%","bp":4.95},{"valueDate":"2021-06-15","quantile":"75%","bp":4.35},{"valueDate":"2021-07-10","quantile":"75%","bp":4.2},{"valueDate":"2021-08-19","quantile":"75%","bp":4.3},{"valueDate":"2021-09-17","quantile":"75%","bp":4.2},{"valueDate":"2021-10-07","quantile":"75%","bp":3.95},{"valueDate":"2021-10-27","quantile":"75%","bp":4.3},{"valueDate":"2021-11-16","quantile":"75%","bp":4.1},{"valueDate":"2021-12-05","quantile":"75%","bp":3.95},{"valueDate":"2022-01-04","quantile":"75%","bp":4.1},{"valueDate":"2022-02-03","quantile":"75%","bp":4.05},{"valueDate":"2022-02-22","quantile":"75%","bp":4.2},{"valueDate":"2022-03-14","quantile":"75%","bp":4.5},{"valueDate":"2022-03-29","quantile":"75%","bp":4.8},{"valueDate":"2022-04-13","quantile":"75%","bp":5.2},{"valueDate":"2022-04-28","quantile":"75%","bp":4.6},{"valueDate":"2022-05-14","quantile":"75%","bp":4.8},{"valueDate":"2022-06-03","quantile":"75%","bp":5.2},{"valueDate":"2022-06-24","quantile":"75%","bp":5.35},{"valueDate":"2022-07-14","quantile":"75%","bp":5.6},{"valueDate":"2022-08-04","quantile":"75%","bp":5.5},{"valueDate":"2022-08-19","quantile":"75%","bp":5.3},{"valueDate":"2022-09-08","quantile":"75%","bp":5.9},{"valueDate":"2022-09-28","quantile":"75%","bp":5.5},{"valueDate":"2022-10-13","quantile":"75%","bp":5.8},{"valueDate":"2022-11-02","quantile":"75%","bp":5.95},{"valueDate":"2022-11-22","quantile":"75%","bp":5.5},{"valueDate":"2022-12-12","quantile":"75%","bp":5.0},{"valueDate":"2022-12-27","quantile":"75%","bp":5.6},{"valueDate":"2023-01-13","quantile":"75%","bp":5.3},{"valueDate":"2023-02-02","quantile":"75%","bp":5.05},{"valueDate":"2023-02-22","quantile":"75%","bp":5.1},{"valueDate":"2023-03-13","quantile":"75%","bp":4.9},{"valueDate":"2023-03-30","quantile":"75%","bp":5.6},{"valueDate":"2023-04-19","quantile":"75%","bp":5.35},{"valueDate":"2023-05-09","quantile":"75%","bp":5.35},{"valueDate":"2023-05-29","quantile":"75%","bp":5.0},{"valueDate":"2023-06-23","quantile":"75%","bp":5.0},{"valueDate":"2023-07-14","quantile":"75%","bp":4.75},{"valueDate":"2023-08-03","quantile":"75%","bp":4.65},{"valueDate":"2023-08-28","quantile":"75%","bp":4.6},{"valueDate":"2023-09-17","quantile":"75%","bp":4.45},{"valueDate":"2023-10-03","quantile":"75%","bp":4.35},{"valueDate":"2023-10-15","quantile":"75%","bp":3.95},{"valueDate":"2023-10-23","quantile":"75%","bp":5.45},{"valueDate":"2023-10-28","quantile":"75%","bp":5.8},{"valueDate":"2023-11-07","quantile":"75%","bp":4.65},{"valueDate":"2023-11-27","quantile":"75%","bp":4.45},{"valueDate":"2023-12-23","quantile":"75%","bp":4.5},{"valueDate":"2024-01-13","quantile":"75%","bp":4.1},{"valueDate":"2024-02-13","quantile":"75%","bp":4.1},{"valueDate":"2024-03-14","quantile":"75%","bp":3.95},{"valueDate":"2024-04-14","quantile":"75%","bp":4.3},{"valueDate":"2024-05-14","quantile":"75%","bp":4.05},{"valueDate":"2024-06-24","quantile":"75%","bp":4.05},{"valueDate":"2024-08-04","quantile":"75%","bp":3.95},{"valueDate":"2024-08-24","quantile":"75%","bp":4.1},{"valueDate":"2024-09-11","quantile":"75%","bp":3.65},{"valueDate":"2024-10-03","quantile":"75%","bp":4.2},{"valueDate":"2024-11-02","quantile":"75%","bp":4.1},{"valueDate":"2024-12-02","quantile":"75%","bp":4.05},{"valueDate":"2025-01-03","quantile":"75%","bp":3.95},{"valueDate":"2025-01-18","quantile":"75%","bp":3.75},{"valueDate":"2025-02-03","quantile":"75%","bp":3.45},{"valueDate":"2025-02-18","quantile":"75%","bp":3.75},{"valueDate":"2025-03-07","quantile":"75%","bp":3.2},{"valueDate":"2025-03-20","quantile":"75%","bp":3.6},{"valueDate":"2025-04-02","quantile":"75%","bp":3.2},{"valueDate":"2025-04-09","quantile":"75%","bp":4.35},{"valueDate":"2025-04-16","quantile":"75%","bp":5.05},{"valueDate":"2025-04-29","quantile":"75%","bp":4.8},{"valueDate":"2025-05-14","quantile":"75%","bp":4.2},{"valueDate":"2025-06-14","quantile":"75%","bp":4.05},{"valueDate":"2025-07-04","quantile":"75%","bp":3.8},{"valueDate":"2025-08-04","quantile":"75%","bp":3.95},{"valueDate":"2025-08-29","quantile":"75%","bp":3.95},{"valueDate":"2025-09-18","quantile":"75%","bp":3.65},{"valueDate":"2025-10-08","quantile":"75%","bp":3.35},{"valueDate":"2025-11-02","quantile":"75%","bp":3.45},{"valueDate":"2025-11-17","quantile":"75%","bp":3.25},{"valueDate":"2025-12-07","quantile":"75%","bp":3.65},{"valueDate":"2025-12-31","quantile":"75%","bp":3.9},
      {"valueDate":"2019-01-14","quantile":"50%","bp":4.05},{"valueDate":"2019-01-18","quantile":"50%","bp":3.45},{"valueDate":"2019-01-30","quantile":"50%","bp":3.3},{"valueDate":"2019-02-14","quantile":"50%","bp":3.3},{"valueDate":"2019-03-06","quantile":"50%","bp":3.2},{"valueDate":"2019-03-21","quantile":"50%","bp":3.6},{"valueDate":"2019-04-10","quantile":"50%","bp":3.8},{"valueDate":"2019-04-29","quantile":"50%","bp":3.6},{"valueDate":"2019-05-19","quantile":"50%","bp":3.5},{"valueDate":"2019-06-18","quantile":"50%","bp":3.35},{"valueDate":"2019-07-17","quantile":"50%","bp":3.2},{"valueDate":"2019-08-16","quantile":"50%","bp":3.1},{"valueDate":"2019-09-05","quantile":"50%","bp":3.3},{"valueDate":"2019-10-04","quantile":"50%","bp":3.5},{"valueDate":"2019-11-03","quantile":"50%","bp":3.2},{"valueDate":"2019-12-03","quantile":"50%","bp":3.3},{"valueDate":"2020-01-02","quantile":"50%","bp":3.2},{"valueDate":"2020-02-01","quantile":"50%","bp":3.05},{"valueDate":"2020-02-21","quantile":"50%","bp":3.1},{"valueDate":"2020-02-29","quantile":"50%","bp":2.9},{"valueDate":"2020-03-07","quantile":"50%","bp":3.45},{"valueDate":"2020-03-17","quantile":"50%","bp":5.6},{"valueDate":"2020-03-25","quantile":"50%","bp":7.45},{"valueDate":"2020-04-01","quantile":"50%","bp":8.05},{"valueDate":"2020-04-07","quantile":"50%","bp":8.75},{"valueDate":"2020-04-16","quantile":"50%","bp":8.15},{"valueDate":"2020-04-26","quantile":"50%","bp":7.3},{"valueDate":"2020-05-06","quantile":"50%","bp":6.8},{"valueDate":"2020-05-16","quantile":"50%","bp":6.35},{"valueDate":"2020-05-26","quantile":"50%","bp":5.8},{"valueDate":"2020-06-08","quantile":"50%","bp":5.1},{"valueDate":"2020-06-20","quantile":"50%","bp":5.2},{"valueDate":"2020-07-09","quantile":"50%","bp":4.9},{"valueDate":"2020-07-21","quantile":"50%","bp":4.2},{"valueDate":"2020-08-08","quantile":"50%","bp":4.05},{"valueDate":"2020-09-02","quantile":"50%","bp":4.1},{"valueDate":"2020-09-26","quantile":"50%","bp":4.05},{"valueDate":"2020-10-14","quantile":"50%","bp":4.45},{"valueDate":"2020-10-26","quantile":"50%","bp":3.95},{"valueDate":"2020-11-17","quantile":"50%","bp":4.3},{"valueDate":"2020-12-10","quantile":"50%","bp":3.95},{"valueDate":"2021-01-03","quantile":"50%","bp":4.05},{"valueDate":"2021-01-28","quantile":"50%","bp":3.9},{"valueDate":"2021-02-22","quantile":"50%","bp":3.35},{"valueDate":"2021-03-18","quantile":"50%","bp":3.3},{"valueDate":"2021-04-07","quantile":"50%","bp":3.75},{"valueDate":"2021-04-22","quantile":"50%","bp":4.05},{"valueDate":"2021-05-12","quantile":"50%","bp":3.75},{"valueDate":"2021-06-05","quantile":"50%","bp":3.35},{"valueDate":"2021-07-10","quantile":"50%","bp":3.3},{"valueDate":"2021-08-19","quantile":"50%","bp":3.3},{"valueDate":"2021-09-27","quantile":"50%","bp":3.05},{"valueDate":"2021-10-22","quantile":"50%","bp":3.35},{"valueDate":"2021-11-26","quantile":"50%","bp":3.05},{"valueDate":"2022-01-04","quantile":"50%","bp":3.1},{"valueDate":"2022-02-08","quantile":"50%","bp":3.1},{"valueDate":"2022-02-22","quantile":"50%","bp":3.1},{"valueDate":"2022-03-14","quantile":"50%","bp":3.45},{"valueDate":"2022-03-29","quantile":"50%","bp":3.8},{"valueDate":"2022-04-13","quantile":"50%","bp":4.05},{"valueDate":"2022-04-28","quantile":"50%","bp":3.35},{"valueDate":"2022-05-19","quantile":"50%","bp":3.5},{"valueDate":"2022-06-03","quantile":"50%","bp":3.75},{"valueDate":"2022-07-04","quantile":"50%","bp":3.9},{"valueDate":"2022-08-04","quantile":"50%","bp":3.95},{"valueDate":"2022-08-19","quantile":"50%","bp":4.05},{"valueDate":"2022-09-08","quantile":"50%","bp":4.1},{"valueDate":"2022-09-28","quantile":"50%","bp":3.65},{"valueDate":"2022-10-18","quantile":"50%","bp":4.2},{"valueDate":"2022-11-07","quantile":"50%","bp":4.25},{"valueDate":"2022-11-27","quantile":"50%","bp":4.05},{"valueDate":"2022-12-12","quantile":"50%","bp":3.6},{"valueDate":"2023-01-03","quantile":"50%","bp":4.05},{"valueDate":"2023-02-02","quantile":"50%","bp":3.95},{"valueDate":"2023-02-27","quantile":"50%","bp":3.95},{"valueDate":"2023-03-15","quantile":"50%","bp":3.5},{"valueDate":"2023-04-04","quantile":"50%","bp":4.2},{"valueDate":"2023-04-24","quantile":"50%","bp":4.1},{"valueDate":"2023-05-19","quantile":"50%","bp":3.8},{"valueDate":"2023-06-13","quantile":"50%","bp":3.6},{"valueDate":"2023-07-14","quantile":"50%","bp":3.5},{"valueDate":"2023-08-13","quantile":"50%","bp":3.35},{"valueDate":"2023-09-12","quantile":"50%","bp":3.45},{"valueDate":"2023-09-28","quantile":"50%","bp":3.25},{"valueDate":"2023-10-15","quantile":"50%","bp":2.95},{"valueDate":"2023-10-21","quantile":"50%","bp":3.6},{"valueDate":"2023-10-28","quantile":"50%","bp":3.95},{"valueDate":"2023-11-10","quantile":"50%","bp":3.35},{"valueDate":"2023-12-02","quantile":"50%","bp":3.2},{"valueDate":"2023-12-23","quantile":"50%","bp":3.5},{"valueDate":"2024-01-23","quantile":"50%","bp":3.2},{"valueDate":"2024-02-23","quantile":"50%","bp":3.1},{"valueDate":"2024-04-04","quantile":"50%","bp":3.2},{"valueDate":"2024-05-14","quantile":"50%","bp":3.1},{"valueDate":"2024-06-24","quantile":"50%","bp":3.05},{"valueDate":"2024-08-04","quantile":"50%","bp":3.05},{"valueDate":"2024-08-24","quantile":"50%","bp":3.25},{"valueDate":"2024-09-11","quantile":"50%","bp":2.9},{"valueDate":"2024-10-03","quantile":"50%","bp":3.2},{"valueDate":"2024-11-02","quantile":"50%","bp":3.25},{"valueDate":"2024-12-02","quantile":"50%","bp":3.1},{"valueDate":"2025-01-13","quantile":"50%","bp":3.05},{"valueDate":"2025-02-03","quantile":"50%","bp":2.75},{"valueDate":"2025-02-18","quantile":"50%","bp":2.9},{"valueDate":"2025-03-10","quantile":"50%","bp":2.4},{"valueDate":"2025-03-25","quantile":"50%","bp":2.9},{"valueDate":"2025-04-04","quantile":"50%","bp":2.5},{"valueDate":"2025-04-16","quantile":"50%","bp":3.9},{"valueDate":"2025-04-29","quantile":"50%","bp":3.5},{"valueDate":"2025-05-19","quantile":"50%","bp":3.2},{"valueDate":"2025-06-14","quantile":"50%","bp":3.1},{"valueDate":"2025-07-09","quantile":"50%","bp":3.05},{"valueDate":"2025-08-14","quantile":"50%","bp":3.05},{"valueDate":"2025-09-18","quantile":"50%","bp":2.95},{"valueDate":"2025-10-13","quantile":"50%","bp":2.65},{"valueDate":"2025-11-17","quantile":"50%","bp":2.5},{"valueDate":"2025-12-07","quantile":"50%","bp":2.8},{"valueDate":"2025-12-31","quantile":"50%","bp":2.95},
      {"valueDate":"2019-01-14","quantile":"25%","bp":3.05},{"valueDate":"2019-01-20","quantile":"25%","bp":2.4},{"valueDate":"2019-02-04","quantile":"25%","bp":2.35},{"valueDate":"2019-02-24","quantile":"25%","bp":2.25},{"valueDate":"2019-03-11","quantile":"25%","bp":2.25},{"valueDate":"2019-03-26","quantile":"25%","bp":2.5},{"valueDate":"2019-04-10","quantile":"25%","bp":2.8},{"valueDate":"2019-04-29","quantile":"25%","bp":2.65},{"valueDate":"2019-05-24","quantile":"25%","bp":2.75},{"valueDate":"2019-06-18","quantile":"25%","bp":2.4},{"valueDate":"2019-07-12","quantile":"25%","bp":2.65},{"valueDate":"2019-07-27","quantile":"25%","bp":2.2},{"valueDate":"2019-08-11","quantile":"25%","bp":2.5},{"valueDate":"2019-08-26","quantile":"25%","bp":2.25},{"valueDate":"2019-09-15","quantile":"25%","bp":2.35},{"valueDate":"2019-10-02","quantile":"25%","bp":2.5},{"valueDate":"2019-10-19","quantile":"25%","bp":2.4},{"valueDate":"2019-11-08","quantile":"25%","bp":2.25},{"valueDate":"2019-12-03","quantile":"25%","bp":2.35},{"valueDate":"2019-12-23","quantile":"25%","bp":2.4},{"valueDate":"2020-01-12","quantile":"25%","bp":2.1},{"valueDate":"2020-02-01","quantile":"25%","bp":2.05},{"valueDate":"2020-02-21","quantile":"25%","bp":2.1},{"valueDate":"2020-02-29","quantile":"25%","bp":1.95},{"valueDate":"2020-03-07","quantile":"25%","bp":2.25},{"valueDate":"2020-03-17","quantile":"25%","bp":3.6},{"valueDate":"2020-03-24","quantile":"25%","bp":4.35},{"valueDate":"2020-04-01","quantile":"25%","bp":4.8},{"valueDate":"2020-04-08","quantile":"25%","bp":5.45},{"valueDate":"2020-04-16","quantile":"25%","bp":5.2},{"valueDate":"2020-04-26","quantile":"25%","bp":4.65},{"valueDate":"2020-05-06","quantile":"25%","bp":4.35},{"valueDate":"2020-05-16","quantile":"25%","bp":4.1},{"valueDate":"2020-05-26","quantile":"25%","bp":3.8},{"valueDate":"2020-06-08","quantile":"25%","bp":3.35},{"valueDate":"2020-06-25","quantile":"25%","bp":3.5},{"valueDate":"2020-07-09","quantile":"25%","bp":3.35},{"valueDate":"2020-07-24","quantile":"25%","bp":2.95},{"valueDate":"2020-08-18","quantile":"25%","bp":3.1},{"valueDate":"2020-09-11","quantile":"25%","bp":3.1},{"valueDate":"2020-09-26","quantile":"25%","bp":2.95},{"valueDate":"2020-10-14","quantile":"25%","bp":3.35},{"valueDate":"2020-10-26","quantile":"25%","bp":2.95},{"valueDate":"2020-11-17","quantile":"25%","bp":3.25},{"valueDate":"2020-12-15","quantile":"25%","bp":3.05},{"valueDate":"2021-01-08","quantile":"25%","bp":3.1},{"valueDate":"2021-02-02","quantile":"25%","bp":2.95},{"valueDate":"2021-02-27","quantile":"25%","bp":2.5},{"valueDate":"2021-03-18","quantile":"25%","bp":2.5},{"valueDate":"2021-04-07","quantile":"25%","bp":2.8},{"valueDate":"2021-04-22","quantile":"25%","bp":3.05},{"valueDate":"2021-05-12","quantile":"25%","bp":2.65},{"valueDate":"2021-06-01","quantile":"25%","bp":2.35},{"valueDate":"2021-06-30","quantile":"25%","bp":2.5},{"valueDate":"2021-07-30","quantile":"25%","bp":2.6},{"valueDate":"2021-08-29","quantile":"25%","bp":2.4},{"valueDate":"2021-09-27","quantile":"25%","bp":2.25},{"valueDate":"2021-10-22","quantile":"25%","bp":2.5},{"valueDate":"2021-11-26","quantile":"25%","bp":2.1},{"valueDate":"2021-12-25","quantile":"25%","bp":2.25},{"valueDate":"2022-01-09","quantile":"25%","bp":2.5},{"valueDate":"2022-02-03","quantile":"25%","bp":2.25},{"valueDate":"2022-02-22","quantile":"25%","bp":2.05},{"valueDate":"2022-03-09","quantile":"25%","bp":2.2},{"valueDate":"2022-03-24","quantile":"25%","bp":2.65},{"valueDate":"2022-04-13","quantile":"25%","bp":3.1},{"valueDate":"2022-04-28","quantile":"25%","bp":2.5},{"valueDate":"2022-05-14","quantile":"25%","bp":2.4},{"valueDate":"2022-06-03","quantile":"25%","bp":2.75},{"valueDate":"2022-06-24","quantile":"25%","bp":2.5},{"valueDate":"2022-07-19","quantile":"25%","bp":2.65},{"valueDate":"2022-08-04","quantile":"25%","bp":2.9},{"valueDate":"2022-08-29","quantile":"25%","bp":2.8},{"valueDate":"2022-09-23","quantile":"25%","bp":2.5},{"valueDate":"2022-10-13","quantile":"25%","bp":2.9},{"valueDate":"2022-11-12","quantile":"25%","bp":3.05},{"valueDate":"2022-12-12","quantile":"25%","bp":2.5},{"valueDate":"2023-01-03","quantile":"25%","bp":2.95},{"valueDate":"2023-02-02","quantile":"25%","bp":3.05},{"valueDate":"2023-02-27","quantile":"25%","bp":2.95},{"valueDate":"2023-03-15","quantile":"25%","bp":2.4},{"valueDate":"2023-04-04","quantile":"25%","bp":3.2},{"valueDate":"2023-04-24","quantile":"25%","bp":2.95},{"valueDate":"2023-05-24","quantile":"25%","bp":2.75},{"valueDate":"2023-06-23","quantile":"25%","bp":2.65},{"valueDate":"2023-07-24","quantile":"25%","bp":2.8},{"valueDate":"2023-08-23","quantile":"25%","bp":2.5},{"valueDate":"2023-09-23","quantile":"25%","bp":2.4},{"valueDate":"2023-10-08","quantile":"25%","bp":2.2},{"valueDate":"2023-10-15","quantile":"25%","bp":1.9},{"valueDate":"2023-10-23","quantile":"25%","bp":3.1},{"valueDate":"2023-10-28","quantile":"25%","bp":3.35},{"valueDate":"2023-11-07","quantile":"25%","bp":2.65},{"valueDate":"2023-12-02","quantile":"25%","bp":2.4},{"valueDate":"2023-12-28","quantile":"25%","bp":2.8},{"valueDate":"2024-01-23","quantile":"25%","bp":2.5},{"valueDate":"2024-02-23","quantile":"25%","bp":2.35},{"valueDate":"2024-04-04","quantile":"25%","bp":2.4},{"valueDate":"2024-05-14","quantile":"25%","bp":2.6},{"valueDate":"2024-06-14","quantile":"25%","bp":2.2},{"valueDate":"2024-07-14","quantile":"25%","bp":2.35},{"valueDate":"2024-08-04","quantile":"25%","bp":2.25},{"valueDate":"2024-08-24","quantile":"25%","bp":2.5},{"valueDate":"2024-09-11","quantile":"25%","bp":2.05},{"valueDate":"2024-10-03","quantile":"25%","bp":2.35},{"valueDate":"2024-11-02","quantile":"25%","bp":2.5},{"valueDate":"2024-11-22","quantile":"25%","bp":2.25},{"valueDate":"2024-12-23","quantile":"25%","bp":2.2},{"valueDate":"2025-01-18","quantile":"25%","bp":2.05},{"valueDate":"2025-02-13","quantile":"25%","bp":2.05},{"valueDate":"2025-02-28","quantile":"25%","bp":1.9},{"valueDate":"2025-03-10","quantile":"25%","bp":1.65},{"valueDate":"2025-03-25","quantile":"25%","bp":2.1},{"valueDate":"2025-04-02","quantile":"25%","bp":1.7},{"valueDate":"2025-04-14","quantile":"25%","bp":2.8},{"valueDate":"2025-04-29","quantile":"25%","bp":2.5},{"valueDate":"2025-05-24","quantile":"25%","bp":2.4},{"valueDate":"2025-06-14","quantile":"25%","bp":2.5},{"valueDate":"2025-07-09","quantile":"25%","bp":2.2},{"valueDate":"2025-08-14","quantile":"25%","bp":2.25},{"valueDate":"2025-09-08","quantile":"25%","bp":2.25},{"valueDate":"2025-09-28","quantile":"25%","bp":2.35},{"valueDate":"2025-10-13","quantile":"25%","bp":2.05},{"valueDate":"2025-11-12","quantile":"25%","bp":1.95},{"valueDate":"2025-12-07","quantile":"25%","bp":2.2},{"valueDate":"2025-12-17","quantile":"25%","bp":1.95},{"valueDate":"2025-12-31","quantile":"25%","bp":2.2}
    ]
  },
  "concat": [
    {
      "data": {"name": "m3"},
      "width": 3251, "height": 857,
      "title": "maturity = 3Y | analytics = Spread Mid",
      "mark": {"type": "line", "strokeWidth": 4, "strokeJoin": "round"},
      "encoding": {
        "x": {"field": "valueDate", "type": "temporal", "scale": {"type": "utc", "domain": [{"year": 2018, "month": 9, "date": 10, "utc": true}, {"year": 2026, "month": 5, "date": 11, "utc": true}]}, "axis": {"labels": false, "title": null, "values": [{"year": 2019, "utc": true}, {"year": 2020, "utc": true}, {"year": 2021, "utc": true}, {"year": 2022, "utc": true}, {"year": 2023, "utc": true}, {"year": 2024, "utc": true}, {"year": 2025, "utc": true}, {"year": 2026, "utc": true}]}},
        "y": {"field": "bp", "type": "quantitative", "scale": {"domain": [6.1, 156], "nice": false, "zero": false}, "axis": {"title": "basis points", "values": [50, 100, 150]}},
        "color": {"field": "quantile", "type": "nominal", "scale": {"domain": ["25%", "50%", "75%"], "range": ["#1f77b4", "#ff7f0e", "#2ca02c"]}, "legend": {"orient": "none", "legendX": 6588, "legendY": -338, "title": "quantile", "titleFontSize": 49, "titleFontWeight": "normal", "titleColor": "#000000", "titleAnchor": "middle", "titlePadding": -15, "titleLimit": 600, "labelFontSize": 86, "labelColor": "#000000", "labelOffset": 60, "labelLimit": 600, "symbolType": "stroke", "symbolStrokeWidth": 7, "symbolSize": 29929, "rowPadding": -67}}
      }
    },
    {
      "data": {"name": "b3"},
      "width": 3251, "height": 857,
      "title": "maturity = 3Y | analytics = Spread Bid-Offer",
      "mark": {"type": "line", "strokeWidth": 4, "strokeJoin": "round"},
      "encoding": {
        "x": {"field": "valueDate", "type": "temporal", "scale": {"type": "utc", "domain": [{"year": 2018, "month": 9, "date": 10, "utc": true}, {"year": 2026, "month": 5, "date": 11, "utc": true}]}, "axis": {"labels": false, "title": null, "values": [{"year": 2019, "utc": true}, {"year": 2020, "utc": true}, {"year": 2021, "utc": true}, {"year": 2022, "utc": true}, {"year": 2023, "utc": true}, {"year": 2024, "utc": true}, {"year": 2025, "utc": true}, {"year": 2026, "utc": true}]}},
        "y": {"field": "bp", "type": "quantitative", "scale": {"domain": [0.84, 23.24], "nice": false, "zero": false}, "axis": {"title": null, "values": [5, 10, 15, 20]}},
        "color": {"field": "quantile", "type": "nominal", "scale": {"domain": ["25%", "50%", "75%"], "range": ["#1f77b4", "#ff7f0e", "#2ca02c"]}, "legend": {"orient": "none", "legendX": 6588, "legendY": -338, "title": "quantile", "titleFontSize": 49, "titleFontWeight": "normal", "titleColor": "#000000", "titleAnchor": "middle", "titlePadding": -15, "titleLimit": 600, "labelFontSize": 86, "labelColor": "#000000", "labelOffset": 60, "labelLimit": 600, "symbolType": "stroke", "symbolStrokeWidth": 7, "symbolSize": 29929, "rowPadding": -67}}
      }
    },
    {
      "data": {"name": "m5"},
      "width": 3251, "height": 857,
      "title": "maturity = 5Y | analytics = Spread Mid",
      "mark": {"type": "line", "strokeWidth": 4, "strokeJoin": "round"},
      "encoding": {
        "x": {"field": "valueDate", "type": "temporal", "scale": {"type": "utc", "domain": [{"year": 2018, "month": 9, "date": 10, "utc": true}, {"year": 2026, "month": 5, "date": 11, "utc": true}]}, "axis": {"title": "valueDate", "values": [{"year": 2019, "utc": true}, {"year": 2020, "utc": true}, {"year": 2021, "utc": true}, {"year": 2022, "utc": true}, {"year": 2023, "utc": true}, {"year": 2024, "utc": true}, {"year": 2025, "utc": true}, {"year": 2026, "utc": true}]}},
        "y": {"field": "bp", "type": "quantitative", "scale": {"domain": [13.7, 225], "nice": false, "zero": false}, "axis": {"title": "basis points", "values": [50, 100, 150, 200]}},
        "color": {"field": "quantile", "type": "nominal", "scale": {"domain": ["25%", "50%", "75%"], "range": ["#1f77b4", "#ff7f0e", "#2ca02c"]}, "legend": {"orient": "none", "legendX": 6588, "legendY": -338, "title": "quantile", "titleFontSize": 49, "titleFontWeight": "normal", "titleColor": "#000000", "titleAnchor": "middle", "titlePadding": -15, "titleLimit": 600, "labelFontSize": 86, "labelColor": "#000000", "labelOffset": 60, "labelLimit": 600, "symbolType": "stroke", "symbolStrokeWidth": 7, "symbolSize": 29929, "rowPadding": -67}}
      }
    },
    {
      "data": {"name": "b5"},
      "width": 3251, "height": 857,
      "title": "maturity = 5Y | analytics = Spread Bid-Offer",
      "mark": {"type": "line", "strokeWidth": 4, "strokeJoin": "round"},
      "encoding": {
        "x": {"field": "valueDate", "type": "temporal", "scale": {"type": "utc", "domain": [{"year": 2018, "month": 9, "date": 10, "utc": true}, {"year": 2026, "month": 5, "date": 11, "utc": true}]}, "axis": {"title": "valueDate", "values": [{"year": 2019, "utc": true}, {"year": 2020, "utc": true}, {"year": 2021, "utc": true}, {"year": 2022, "utc": true}, {"year": 2023, "utc": true}, {"year": 2024, "utc": true}, {"year": 2025, "utc": true}, {"year": 2026, "utc": true}]}},
        "y": {"field": "bp", "type": "quantitative", "scale": {"domain": [0.88, 16.85], "nice": false, "zero": false}, "axis": {"title": null, "values": [5, 10, 15]}},
        "color": {"field": "quantile", "type": "nominal", "scale": {"domain": ["25%", "50%", "75%"], "range": ["#1f77b4", "#ff7f0e", "#2ca02c"]}, "legend": {"orient": "none", "legendX": 6588, "legendY": -338, "title": "quantile", "titleFontSize": 49, "titleFontWeight": "normal", "titleColor": "#000000", "titleAnchor": "middle", "titlePadding": -15, "titleLimit": 600, "labelFontSize": 86, "labelColor": "#000000", "labelOffset": 60, "labelLimit": 600, "symbolType": "stroke", "symbolStrokeWidth": 7, "symbolSize": 29929, "rowPadding": -67}}
      }
    }
  ]
}
